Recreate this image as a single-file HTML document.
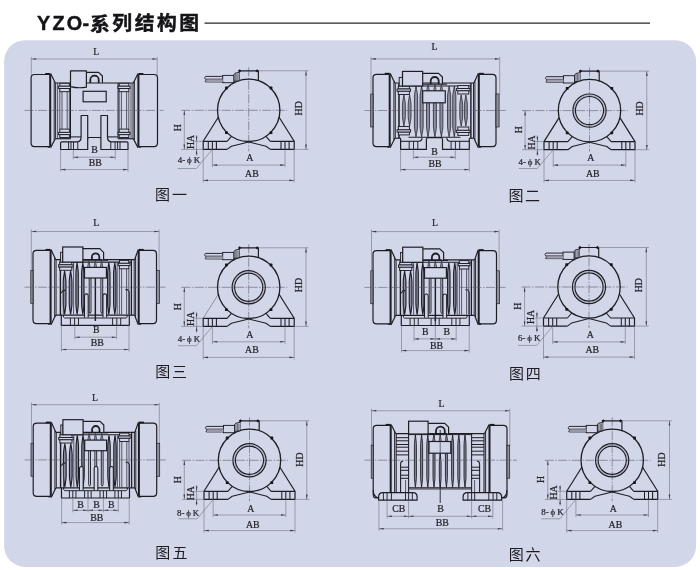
<!DOCTYPE html>
<html><head><meta charset="utf-8"><title>YZO</title>
<style>
html,body{margin:0;padding:0;background:#fff;}
body{width:700px;height:570px;overflow:hidden;font-family:"Liberation Sans",sans-serif;}
svg{display:block;will-change:transform;}
</style></head><body>
<svg width="700" height="570" viewBox="0 0 700 570">
<rect x="4.1" y="40.2" width="692" height="526.7" rx="21" ry="21" fill="#d2d6e9"/>
<text x="36.9" y="29.9" font-family="'Liberation Sans', sans-serif" font-weight="bold" font-size="19.8" fill="#141418" stroke="#141418" stroke-width="0.45" stroke-linejoin="round">Y</text>
<text x="52.4" y="29.9" font-family="'Liberation Sans', sans-serif" font-weight="bold" font-size="19.8" fill="#141418" stroke="#141418" stroke-width="0.45" stroke-linejoin="round">Z</text>
<text x="66.8" y="29.9" font-family="'Liberation Sans', sans-serif" font-weight="bold" font-size="19.8" fill="#141418" stroke="#141418" stroke-width="0.45" stroke-linejoin="round">O</text>
<text x="82.5" y="29.9" font-family="'Liberation Sans', sans-serif" font-weight="bold" font-size="19.8" fill="#141418" stroke="#141418" stroke-width="0.45" stroke-linejoin="round">-</text>
<text x="90.05" y="30.5" font-family="'Liberation Sans', 'Noto Sans CJK SC', sans-serif" font-weight="bold" font-size="19.8" fill="#141418" stroke="#141418" stroke-width="0.45" stroke-linejoin="round">系</text>
<text x="112.34" y="30.3" font-family="'Liberation Sans', 'Noto Sans CJK SC', sans-serif" font-weight="bold" font-size="19.8" fill="#141418" stroke="#141418" stroke-width="0.45" stroke-linejoin="round">列</text>
<text x="134.69" y="30.4" font-family="'Liberation Sans', 'Noto Sans CJK SC', sans-serif" font-weight="bold" font-size="19.8" fill="#141418" stroke="#141418" stroke-width="0.45" stroke-linejoin="round">结</text>
<text x="156.91" y="30.4" font-family="'Liberation Sans', 'Noto Sans CJK SC', sans-serif" font-weight="bold" font-size="19.8" fill="#141418" stroke="#141418" stroke-width="0.45" stroke-linejoin="round">构</text>
<text x="179.17" y="30.3" font-family="'Liberation Sans', 'Noto Sans CJK SC', sans-serif" font-weight="bold" font-size="19.8" fill="#141418" stroke="#141418" stroke-width="0.45" stroke-linejoin="round">图</text>
<line x1="204.5" y1="23.1" x2="650" y2="23.1" stroke="#26262c" stroke-width="1.1" />
<line x1="31.3" y1="59" x2="157.2" y2="59" stroke="#70727f" stroke-width="0.6" />
<path d="M31.3 59 L36.1 58.2 L36.1 59.8Z" fill="#3a3a44"/>
<path d="M157.2 59 L152.4 59.8 L152.4 58.2Z" fill="#3a3a44"/>
<text x="96.2" y="55.3" font-family="'Liberation Serif', serif" font-size="9.8" font-weight="normal" text-anchor="middle" fill="#25252c" stroke="#25252c" stroke-width="0.22" >L</text>
<line x1="31.3" y1="57" x2="31.3" y2="76" stroke="#70727f" stroke-width="0.6" />
<line x1="157.2" y1="57" x2="157.2" y2="76" stroke="#70727f" stroke-width="0.6" />
<line x1="55.3" y1="83" x2="133.3" y2="83" stroke="#1d1d24" stroke-width="1.18" />
<path d="M50.2 74.5 L34.7 74.5 Q31.1 74.5 31.1 78.1 L31.1 143.1 Q31.1 146.7 34.7 146.7 L50.2 146.7" stroke="#1d1d24" stroke-width="1.18" fill="#d2d6e9" stroke-linejoin="round" />
<line x1="50.2" y1="74.5" x2="50.2" y2="146.7" stroke="#1d1d24" stroke-width="2.01" />
<rect x="45.2" y="73" width="5" height="1.7" fill="#1a1a20"/>
<rect x="47.7" y="146.5" width="2.5" height="1.2" fill="#1a1a20"/>
<path d="M138.4 74.5 L153.9 74.5 Q157.5 74.5 157.5 78.1 L157.5 143.1 Q157.5 146.7 153.9 146.7 L138.4 146.7" stroke="#1d1d24" stroke-width="1.18" fill="#d2d6e9" stroke-linejoin="round" />
<line x1="138.4" y1="74.5" x2="138.4" y2="146.7" stroke="#1d1d24" stroke-width="2.01" />
<rect x="138.4" y="73" width="5" height="1.7" fill="#1a1a20"/>
<rect x="138.4" y="146.5" width="2.5" height="1.2" fill="#1a1a20"/>
<line x1="50.6" y1="73.4" x2="55.3" y2="83" stroke="#1d1d24" stroke-width="1.18" />
<line x1="50.6" y1="147.6" x2="55.3" y2="138.7" stroke="#1d1d24" stroke-width="1.18" />
<line x1="54.2" y1="81.5" x2="54.2" y2="140.2" stroke="#1d1d24" stroke-width="0.94" />
<line x1="55.6" y1="83" x2="55.6" y2="138.7" stroke="#1d1d24" stroke-width="0.94" />
<line x1="57.6" y1="83" x2="57.6" y2="138.7" stroke="#3c3c47" stroke-width="0.83" />
<line x1="55.3" y1="138.7" x2="70.5" y2="138.7" stroke="#1d1d24" stroke-width="1.18" />
<line x1="70.5" y1="136.9" x2="81.1" y2="136.9" stroke="#1d1d24" stroke-width="1.06" />
<line x1="70.5" y1="83" x2="70.5" y2="138.7" stroke="#1d1d24" stroke-width="1.06" />
<line x1="138" y1="73.4" x2="133.3" y2="83" stroke="#1d1d24" stroke-width="1.18" />
<line x1="138" y1="147.6" x2="133.3" y2="138.7" stroke="#1d1d24" stroke-width="1.18" />
<line x1="134.4" y1="81.5" x2="134.4" y2="140.2" stroke="#1d1d24" stroke-width="0.94" />
<line x1="133" y1="83" x2="133" y2="138.7" stroke="#1d1d24" stroke-width="0.94" />
<line x1="131" y1="83" x2="131" y2="138.7" stroke="#3c3c47" stroke-width="0.83" />
<line x1="133.3" y1="138.7" x2="118.1" y2="138.7" stroke="#1d1d24" stroke-width="1.18" />
<line x1="118.1" y1="136.9" x2="107.5" y2="136.9" stroke="#1d1d24" stroke-width="1.06" />
<line x1="118.1" y1="83" x2="118.1" y2="138.7" stroke="#1d1d24" stroke-width="1.06" />
<rect x="59.8" y="83.3" width="9.6" height="2.9" rx="0" stroke="#1d1d24" stroke-width="0.94" fill="#d2d6e9"/>
<rect x="58.6" y="86.2" width="12" height="2.3" rx="0" stroke="#1d1d24" stroke-width="0.94" fill="#d2d6e9"/>
<rect x="59.8" y="88.5" width="9.6" height="3.2" rx="0" stroke="#1d1d24" stroke-width="0.94" fill="#d2d6e9"/>
<rect x="59.8" y="134.6" width="9.6" height="2.9" rx="0" stroke="#1d1d24" stroke-width="0.94" fill="#d2d6e9"/>
<rect x="58.6" y="132.3" width="12" height="2.3" rx="0" stroke="#1d1d24" stroke-width="0.94" fill="#d2d6e9"/>
<rect x="59.8" y="129.1" width="9.6" height="3.2" rx="0" stroke="#1d1d24" stroke-width="0.94" fill="#d2d6e9"/>
<line x1="59.8" y1="91.7" x2="59.8" y2="129.1" stroke="#3c3c47" stroke-width="0.83" />
<line x1="62" y1="91.7" x2="62" y2="129.1" stroke="#3c3c47" stroke-width="0.83" />
<line x1="67.2" y1="91.7" x2="67.2" y2="129.1" stroke="#3c3c47" stroke-width="0.83" />
<line x1="69.4" y1="91.7" x2="69.4" y2="129.1" stroke="#3c3c47" stroke-width="0.83" />
<rect x="119.2" y="83.3" width="9.6" height="2.9" rx="0" stroke="#1d1d24" stroke-width="0.94" fill="#d2d6e9"/>
<rect x="118" y="86.2" width="12" height="2.3" rx="0" stroke="#1d1d24" stroke-width="0.94" fill="#d2d6e9"/>
<rect x="119.2" y="88.5" width="9.6" height="3.2" rx="0" stroke="#1d1d24" stroke-width="0.94" fill="#d2d6e9"/>
<rect x="119.2" y="134.6" width="9.6" height="2.9" rx="0" stroke="#1d1d24" stroke-width="0.94" fill="#d2d6e9"/>
<rect x="118" y="132.3" width="12" height="2.3" rx="0" stroke="#1d1d24" stroke-width="0.94" fill="#d2d6e9"/>
<rect x="119.2" y="129.1" width="9.6" height="3.2" rx="0" stroke="#1d1d24" stroke-width="0.94" fill="#d2d6e9"/>
<line x1="119.2" y1="91.7" x2="119.2" y2="129.1" stroke="#3c3c47" stroke-width="0.83" />
<line x1="121.4" y1="91.7" x2="121.4" y2="129.1" stroke="#3c3c47" stroke-width="0.83" />
<line x1="126.6" y1="91.7" x2="126.6" y2="129.1" stroke="#3c3c47" stroke-width="0.83" />
<line x1="128.8" y1="91.7" x2="128.8" y2="129.1" stroke="#3c3c47" stroke-width="0.83" />
<path d="M70.5 70.8 L86.4 70.8 L86.4 87.2 Q78 88.6 70.5 86.6 Z" stroke="#1d1d24" stroke-width="1.18" fill="#d2d6e9" stroke-linejoin="round" />
<path d="M86.4 72.3 L98.6 72.3 L102.4 76 L102.4 83" stroke="#1d1d24" stroke-width="1.18" fill="#d2d6e9" stroke-linejoin="round" />
<path d="M90.3 83 L90.3 79.8 A4.2 4.2 0 0 1 98.7 79.8 L98.7 83" stroke="#1d1d24" stroke-width="1.77" fill="none" stroke-linejoin="round" />
<rect x="83.1" y="91.3" width="23.1" height="10.5" rx="0" stroke="#1d1d24" stroke-width="1.18" fill="none"/>
<path d="M87.7 139 Q87.7 137.5 89.2 137.5 L99.4 137.5 Q100.9 137.5 100.9 139" stroke="#1d1d24" stroke-width="1.06" fill="none" stroke-linejoin="round" />
<path d="M87.7 149.5 L60.6 149.5 L60.6 142.9 Q60.6 141.8 61.8 141.8 L77.6 141.8 Q80.9 141.6 81.1 137.4 L81.1 115.5 L87.7 115.5 Z" stroke="#1d1d24" stroke-width="1.18" fill="#d2d6e9" stroke-linejoin="round" />
<line x1="68.6" y1="141.8" x2="68.6" y2="149.5" stroke="#1d1d24" stroke-width="0.94" />
<line x1="71" y1="141.8" x2="71" y2="149.5" stroke="#1d1d24" stroke-width="0.94" />
<line x1="73.5" y1="141.8" x2="73.5" y2="149.5" stroke="#1d1d24" stroke-width="0.94" />
<line x1="77.8" y1="141.8" x2="77.8" y2="149.5" stroke="#1d1d24" stroke-width="0.94" />
<path d="M100.9 149.5 L128 149.5 L128 142.9 Q128 141.8 126.8 141.8 L111 141.8 Q107.7 141.6 107.5 137.4 L107.5 115.5 L100.9 115.5 Z" stroke="#1d1d24" stroke-width="1.18" fill="#d2d6e9" stroke-linejoin="round" />
<line x1="120" y1="141.8" x2="120" y2="149.5" stroke="#1d1d24" stroke-width="0.94" />
<line x1="117.6" y1="141.8" x2="117.6" y2="149.5" stroke="#1d1d24" stroke-width="0.94" />
<line x1="115.1" y1="141.8" x2="115.1" y2="149.5" stroke="#1d1d24" stroke-width="0.94" />
<line x1="110.8" y1="141.8" x2="110.8" y2="149.5" stroke="#1d1d24" stroke-width="0.94" />
<line x1="24.5" y1="110.4" x2="163.5" y2="110.4" stroke="#5a5c6a" stroke-width="0.6" stroke-dasharray="9 1.5 1.5 1.5"/>
<line x1="73.3" y1="157.2" x2="115.3" y2="157.2" stroke="#70727f" stroke-width="0.6" />
<path d="M73.3 157.2 L78.1 156.4 L78.1 158Z" fill="#3a3a44"/>
<path d="M115.3 157.2 L110.5 158 L110.5 156.4Z" fill="#3a3a44"/>
<line x1="73.3" y1="149.5" x2="73.3" y2="159.2" stroke="#70727f" stroke-width="0.6" />
<line x1="115.3" y1="149.5" x2="115.3" y2="159.2" stroke="#70727f" stroke-width="0.6" />
<text x="94.5" y="152.6" font-family="'Liberation Serif', serif" font-size="9.8" font-weight="normal" text-anchor="middle" fill="#25252c" stroke="#25252c" stroke-width="0.22" >B</text>
<line x1="60.6" y1="169.6" x2="128" y2="169.6" stroke="#70727f" stroke-width="0.6" />
<path d="M60.6 169.6 L65.4 168.8 L65.4 170.4Z" fill="#3a3a44"/>
<path d="M128 169.6 L123.2 170.4 L123.2 168.8Z" fill="#3a3a44"/>
<line x1="60.6" y1="149.5" x2="60.6" y2="171.6" stroke="#70727f" stroke-width="0.6" />
<line x1="128" y1="149.5" x2="128" y2="171.6" stroke="#70727f" stroke-width="0.6" />
<text x="95.2" y="165.6" font-family="'Liberation Serif', serif" font-size="9.8" font-weight="normal" text-anchor="middle" fill="#25252c" stroke="#25252c" stroke-width="0.22" >BB</text>
<line x1="248.7" y1="67.3" x2="248.7" y2="151.3" stroke="#5a5c6a" stroke-width="0.6" stroke-dasharray="9 1.5 1.5 1.5"/>
<line x1="181.2" y1="110.3" x2="287.2" y2="110.3" stroke="#5a5c6a" stroke-width="0.6" stroke-dasharray="9 1.5 1.5 1.5"/>
<line x1="218.3" y1="117.3" x2="203.2" y2="141.3" stroke="#1d1d24" stroke-width="1.18" />
<path d="M227.1 141.3 L203.2 141.3 L203.2 149.4 L227.1 149.4" stroke="#1d1d24" stroke-width="1.18" fill="none" stroke-linejoin="round" />
<line x1="208.3" y1="141.3" x2="208.3" y2="149.4" stroke="#1d1d24" stroke-width="1.06" />
<line x1="212.4" y1="141.3" x2="212.4" y2="149.4" stroke="#1d1d24" stroke-width="1.06" />
<line x1="216.4" y1="141.3" x2="216.4" y2="149.4" stroke="#1d1d24" stroke-width="1.06" />
<line x1="227.1" y1="141.3" x2="231.4" y2="136.3" stroke="#1d1d24" stroke-width="1.06" />
<path d="M227.1 149.4 L231.4 146.2 L248.7 141.9" stroke="#1d1d24" stroke-width="1.06" fill="none" stroke-linejoin="round" />
<line x1="279.1" y1="117.3" x2="294.2" y2="141.3" stroke="#1d1d24" stroke-width="1.18" />
<path d="M270.3 141.3 L294.2 141.3 L294.2 149.4 L270.3 149.4" stroke="#1d1d24" stroke-width="1.18" fill="none" stroke-linejoin="round" />
<line x1="289.1" y1="141.3" x2="289.1" y2="149.4" stroke="#1d1d24" stroke-width="1.06" />
<line x1="285" y1="141.3" x2="285" y2="149.4" stroke="#1d1d24" stroke-width="1.06" />
<line x1="281" y1="141.3" x2="281" y2="149.4" stroke="#1d1d24" stroke-width="1.06" />
<line x1="270.3" y1="141.3" x2="266" y2="136.3" stroke="#1d1d24" stroke-width="1.06" />
<path d="M270.3 149.4 L266 146.2 L248.7 141.9" stroke="#1d1d24" stroke-width="1.06" fill="none" stroke-linejoin="round" />
<circle cx="248.7" cy="110.3" r="31.2" stroke="#1d1d24" stroke-width="1.3" fill="none"/>
<rect x="225" y="86.6" width="2.8" height="2.8" rx="0.6" fill="#15151a"/>
<rect x="225" y="131.2" width="2.8" height="2.8" rx="0.6" fill="#15151a"/>
<rect x="269.6" y="86.6" width="2.8" height="2.8" rx="0.6" fill="#15151a"/>
<rect x="269.6" y="131.2" width="2.8" height="2.8" rx="0.6" fill="#15151a"/>
<path d="M239.1 80.91 L239.1 70.8 L258.4 70.8 L258.4 80.91" stroke="#1d1d24" stroke-width="1.18" fill="none" stroke-linejoin="round" />
<rect x="238.55" y="69.65" width="2.3" height="2.3" fill="#15151a" transform="rotate(45 239.7 70.8)"/>
<rect x="255.95" y="69.65" width="2.3" height="2.3" fill="#15151a" transform="rotate(45 257.1 70.8)"/>
<path d="M239.1 72.4 L235 73.2 L233.8 74.8 L233.8 81.4 L239.1 80.8" stroke="#1d1d24" stroke-width="0.94" fill="#d2d6e9" stroke-linejoin="round" />
<line x1="235.3" y1="73.6" x2="235.3" y2="81.1" stroke="#3c3c47" stroke-width="0.71" />
<line x1="236.8" y1="73.6" x2="236.8" y2="81.1" stroke="#3c3c47" stroke-width="0.71" />
<line x1="238.1" y1="73.6" x2="238.1" y2="81.1" stroke="#3c3c47" stroke-width="0.71" />
<rect x="222.7" y="75.4" width="11.1" height="7.3" rx="0" stroke="#1d1d24" stroke-width="0.94" fill="#d2d6e9"/>
<path d="M222.7 76.4 L205.5 76.4" stroke="#1d1d24" stroke-width="0.94" fill="none" stroke-linejoin="round" />
<path d="M222.7 81.9 L205.5 81.9" stroke="#1d1d24" stroke-width="0.94" fill="none" stroke-linejoin="round" />
<rect x="206.2" y="79" width="16.5" height="2.9" fill="#9c9eab"/>
<line x1="205.5" y1="79" x2="222.7" y2="79" stroke="#3c3c47" stroke-width="0.71" />
<path d="M205.5 76.4 L204.5 78 L206.1 79.8 L205.1 81.9" stroke="#1d1d24" stroke-width="0.83" fill="none" stroke-linejoin="round" />
<line x1="258.4" y1="70.8" x2="308.5" y2="70.8" stroke="#70727f" stroke-width="0.6" />
<line x1="294.2" y1="149.4" x2="308.5" y2="149.4" stroke="#70727f" stroke-width="0.6" />
<line x1="306" y1="70.8" x2="306" y2="149.4" stroke="#70727f" stroke-width="0.6" />
<path d="M306 70.8 L306.8 75.6 L305.2 75.6Z" fill="#3a3a44"/>
<path d="M306 149.4 L305.2 144.6 L306.8 144.6Z" fill="#3a3a44"/>
<text x="301.9" y="108.3" font-family="'Liberation Serif', serif" font-size="9.8" font-weight="normal" text-anchor="middle" fill="#25252c" stroke="#25252c" stroke-width="0.22" transform="rotate(-90 301.9 108.3)" >HD</text>
<line x1="184.3" y1="110.3" x2="184.3" y2="149.4" stroke="#70727f" stroke-width="0.6" />
<path d="M184.3 110.3 L185.1 115.1 L183.5 115.1Z" fill="#3a3a44"/>
<path d="M184.3 149.4 L183.5 144.6 L185.1 144.6Z" fill="#3a3a44"/>
<text x="181" y="127.7" font-family="'Liberation Serif', serif" font-size="9.8" font-weight="normal" text-anchor="middle" fill="#25252c" stroke="#25252c" stroke-width="0.22" transform="rotate(-90 181 127.7)" >H</text>
<line x1="181.2" y1="149.4" x2="203.2" y2="149.4" stroke="#70727f" stroke-width="0.6" />
<line x1="194.8" y1="141.3" x2="203.2" y2="141.3" stroke="#70727f" stroke-width="0.6" />
<line x1="196.6" y1="135" x2="196.6" y2="155.7" stroke="#70727f" stroke-width="0.6" />
<path d="M196.6 141.3 L195.8 136.5 L197.4 136.5Z" fill="#3a3a44"/>
<path d="M196.6 149.4 L197.4 154.2 L195.8 154.2Z" fill="#3a3a44"/>
<text x="193.8" y="142" font-family="'Liberation Serif', serif" font-size="9.8" font-weight="normal" text-anchor="middle" fill="#25252c" stroke="#25252c" stroke-width="0.22" transform="rotate(-90 193.8 142)" >HA</text>
<text x="188.9" y="163.1" font-family="'Liberation Serif', serif" font-size="8.9" font-weight="normal" text-anchor="middle" fill="#25252c" stroke="#25252c" stroke-width="0.22" xml:space="preserve" word-spacing="-0.3">4- &#981; K</text>
<path d="M177.9 168.5 L196.4 168.5 L212.4 149.4" stroke="#70727f" stroke-width="0.6" fill="none" stroke-linejoin="round" />
<line x1="212.4" y1="165.1" x2="285" y2="165.1" stroke="#70727f" stroke-width="0.6" />
<path d="M212.4 165.1 L217.2 164.3 L217.2 165.9Z" fill="#3a3a44"/>
<path d="M285 165.1 L280.2 165.9 L280.2 164.3Z" fill="#3a3a44"/>
<line x1="212.4" y1="149.4" x2="212.4" y2="167.1" stroke="#70727f" stroke-width="0.6" />
<line x1="285" y1="149.4" x2="285" y2="167.1" stroke="#70727f" stroke-width="0.6" />
<text x="249.9" y="160.9" font-family="'Liberation Serif', serif" font-size="9.8" font-weight="normal" text-anchor="middle" fill="#25252c" stroke="#25252c" stroke-width="0.22" >A</text>
<line x1="203.2" y1="180.4" x2="294.2" y2="180.4" stroke="#70727f" stroke-width="0.6" />
<path d="M203.2 180.4 L208 179.6 L208 181.2Z" fill="#3a3a44"/>
<path d="M294.2 180.4 L289.4 181.2 L289.4 179.6Z" fill="#3a3a44"/>
<line x1="203.2" y1="149.4" x2="203.2" y2="182.4" stroke="#70727f" stroke-width="0.6" />
<line x1="294.2" y1="149.4" x2="294.2" y2="182.4" stroke="#70727f" stroke-width="0.6" />
<text x="251.9" y="176.7" font-family="'Liberation Serif', serif" font-size="9.8" font-weight="normal" text-anchor="middle" fill="#25252c" stroke="#25252c" stroke-width="0.22" >AB</text>
<path d="M389.7 74.3 L376.6 74.3 Q373 74.3 373 77.9 L373 143.1 Q373 146.7 376.6 146.7 L389.7 146.7" stroke="#1d1d24" stroke-width="1.18" fill="#d2d6e9" stroke-linejoin="round" />
<line x1="389.7" y1="74.3" x2="389.7" y2="146.7" stroke="#1d1d24" stroke-width="2.01" />
<rect x="384.7" y="72.8" width="5" height="1.7" fill="#1a1a20"/>
<rect x="387.2" y="146.5" width="2.5" height="1.2" fill="#1a1a20"/>
<rect x="370.7" y="94" width="2.3" height="33" fill="#8e909e" stroke="#1d1d24" stroke-width="0.7"/>
<path d="M478.8 74.3 L492.4 74.3 Q496 74.3 496 77.9 L496 143.1 Q496 146.7 492.4 146.7 L478.8 146.7" stroke="#1d1d24" stroke-width="1.18" fill="#d2d6e9" stroke-linejoin="round" />
<line x1="478.8" y1="74.3" x2="478.8" y2="146.7" stroke="#1d1d24" stroke-width="2.01" />
<rect x="478.8" y="72.8" width="5" height="1.7" fill="#1a1a20"/>
<rect x="478.8" y="146.5" width="2.5" height="1.2" fill="#1a1a20"/>
<rect x="496" y="94" width="3.1" height="33" fill="#8e909e" stroke="#1d1d24" stroke-width="0.7"/>
<line x1="390.1" y1="73.3" x2="394.9" y2="83" stroke="#1d1d24" stroke-width="1.18" />
<line x1="390.1" y1="147.7" x2="394.9" y2="138.2" stroke="#1d1d24" stroke-width="1.18" />
<line x1="393.9" y1="81.4" x2="393.9" y2="139.8" stroke="#1d1d24" stroke-width="0.94" />
<line x1="395.3" y1="83" x2="395.3" y2="138.2" stroke="#1d1d24" stroke-width="0.94" />
<line x1="478.4" y1="73.3" x2="473.9" y2="83" stroke="#1d1d24" stroke-width="1.18" />
<line x1="478.4" y1="147.7" x2="473.9" y2="138.2" stroke="#1d1d24" stroke-width="1.18" />
<line x1="474.9" y1="81.4" x2="474.9" y2="139.8" stroke="#1d1d24" stroke-width="0.94" />
<line x1="473.5" y1="83" x2="473.5" y2="138.2" stroke="#1d1d24" stroke-width="0.94" />
<line x1="371" y1="58.9" x2="499.7" y2="58.9" stroke="#70727f" stroke-width="0.6" />
<path d="M371 58.9 L375.8 58.1 L375.8 59.7Z" fill="#3a3a44"/>
<path d="M499.7 58.9 L494.9 59.7 L494.9 58.1Z" fill="#3a3a44"/>
<text x="434.5" y="49.9" font-family="'Liberation Serif', serif" font-size="9.8" font-weight="normal" text-anchor="middle" fill="#25252c" stroke="#25252c" stroke-width="0.22" >L</text>
<line x1="371" y1="56.9" x2="371" y2="95" stroke="#70727f" stroke-width="0.6" />
<line x1="499.7" y1="56.9" x2="499.7" y2="95" stroke="#70727f" stroke-width="0.6" />
<line x1="394.9" y1="83" x2="473.9" y2="83" stroke="#1d1d24" stroke-width="1.18" />
<line x1="399" y1="83" x2="399" y2="138.2" stroke="#1d1d24" stroke-width="1.53" />
<line x1="470.9" y1="83" x2="470.9" y2="138.2" stroke="#1d1d24" stroke-width="1.42" />
<line x1="394.9" y1="138.2" x2="400.6" y2="138.2" stroke="#1d1d24" stroke-width="1.18" />
<line x1="469.3" y1="138.2" x2="473.9" y2="138.2" stroke="#1d1d24" stroke-width="1.18" />
<line x1="399" y1="86" x2="470.9" y2="86" stroke="#1d1d24" stroke-width="1.06" />
<path d="M416 86.2 C415.12 91.15 414.4 93.9 414.4 97.2 L414.4 125.8 C414.4 129.1 415.12 131.85 416 136.8 C416.88 131.85 417.6 129.1 417.6 125.8 L417.6 97.2 C417.6 93.9 416.88 91.15 416 86.2 Z" stroke="#1d1d24" stroke-width="0.73" fill="#8a8d9f" stroke-linejoin="miter"/>
<path d="M421.6 86.2 C420.72 91.15 420 93.9 420 97.2 L420 125.8 C420 129.1 420.72 131.85 421.6 136.8 C422.48 131.85 423.2 129.1 423.2 125.8 L423.2 97.2 C423.2 93.9 422.48 91.15 421.6 86.2 Z" stroke="#1d1d24" stroke-width="0.73" fill="#8a8d9f" stroke-linejoin="miter"/>
<path d="M449.1 86.2 C448.22 91.15 447.5 93.9 447.5 97.2 L447.5 125.8 C447.5 129.1 448.22 131.85 449.1 136.8 C449.98 131.85 450.7 129.1 450.7 125.8 L450.7 97.2 C450.7 93.9 449.98 91.15 449.1 86.2 Z" stroke="#1d1d24" stroke-width="0.73" fill="#8a8d9f" stroke-linejoin="miter"/>
<path d="M454.3 86.2 C453.42 91.15 452.7 93.9 452.7 97.2 L452.7 125.8 C452.7 129.1 453.42 131.85 454.3 136.8 C455.18 131.85 455.9 129.1 455.9 125.8 L455.9 97.2 C455.9 93.9 455.18 91.15 454.3 86.2 Z" stroke="#1d1d24" stroke-width="0.73" fill="#8a8d9f" stroke-linejoin="miter"/>
<path d="M403.9 95 C403.1 99.6 402.45 102.16 402.45 105.23 L402.45 115.77 C402.45 118.84 403.1 121.4 403.9 126 C404.7 121.4 405.35 118.84 405.35 115.77 L405.35 105.23 C405.35 102.16 404.7 99.6 403.9 95 Z" stroke="#1d1d24" stroke-width="0.73" fill="#8a8d9f" stroke-linejoin="miter"/>
<path d="M409.6 95 C408.8 99.6 408.15 102.16 408.15 105.23 L408.15 115.77 C408.15 118.84 408.8 121.4 409.6 126 C410.4 121.4 411.05 118.84 411.05 115.77 L411.05 105.23 C411.05 102.16 410.4 99.6 409.6 95 Z" stroke="#1d1d24" stroke-width="0.73" fill="#8a8d9f" stroke-linejoin="miter"/>
<path d="M461.2 95 C460.4 99.6 459.75 102.16 459.75 105.23 L459.75 115.77 C459.75 118.84 460.4 121.4 461.2 126 C462 121.4 462.65 118.84 462.65 115.77 L462.65 105.23 C462.65 102.16 462 99.6 461.2 95 Z" stroke="#1d1d24" stroke-width="0.73" fill="#8a8d9f" stroke-linejoin="miter"/>
<path d="M465.9 95 C465.1 99.6 464.45 102.16 464.45 105.23 L464.45 115.77 C464.45 118.84 465.1 121.4 465.9 126 C466.7 121.4 467.35 118.84 467.35 115.77 L467.35 105.23 C467.35 102.16 466.7 99.6 465.9 95 Z" stroke="#1d1d24" stroke-width="0.73" fill="#8a8d9f" stroke-linejoin="miter"/>
<path d="M428 90.2 C427.18 95.15 426.5 97.9 426.5 101.2 L426.5 125.8 C426.5 129.1 427.18 131.85 428 136.8 C428.82 131.85 429.5 129.1 429.5 125.8 L429.5 101.2 C429.5 97.9 428.82 95.15 428 90.2 Z" stroke="#1d1d24" stroke-width="0.73" fill="#8a8d9f" stroke-linejoin="miter"/>
<path d="M434.9 90.2 C434.07 95.15 433.4 97.9 433.4 101.2 L433.4 125.8 C433.4 129.1 434.07 131.85 434.9 136.8 C435.72 131.85 436.4 129.1 436.4 125.8 L436.4 101.2 C436.4 97.9 435.72 95.15 434.9 90.2 Z" stroke="#1d1d24" stroke-width="0.73" fill="#8a8d9f" stroke-linejoin="miter"/>
<path d="M441.4 90.2 C440.57 95.15 439.9 97.9 439.9 101.2 L439.9 125.8 C439.9 129.1 440.57 131.85 441.4 136.8 C442.22 131.85 442.9 129.1 442.9 125.8 L442.9 101.2 C442.9 97.9 442.22 95.15 441.4 90.2 Z" stroke="#1d1d24" stroke-width="0.73" fill="#8a8d9f" stroke-linejoin="miter"/>
<line x1="408.5" y1="137.2" x2="460.4" y2="137.2" stroke="#1d1d24" stroke-width="1.06" />
<rect x="398.3" y="86.1" width="11.1" height="2.9" rx="0" stroke="#1d1d24" stroke-width="0.94" fill="#d2d6e9"/>
<rect x="397.1" y="89" width="13.5" height="2.3" rx="0" stroke="#1d1d24" stroke-width="0.94" fill="#d2d6e9"/>
<rect x="398.3" y="91.3" width="11.1" height="3.2" rx="0" stroke="#1d1d24" stroke-width="0.94" fill="#d2d6e9"/>
<rect x="398.3" y="132" width="11.1" height="2.9" rx="0" stroke="#1d1d24" stroke-width="0.94" fill="#d2d6e9"/>
<rect x="397.1" y="129.7" width="13.5" height="2.3" rx="0" stroke="#1d1d24" stroke-width="0.94" fill="#d2d6e9"/>
<rect x="398.3" y="126.5" width="11.1" height="3.2" rx="0" stroke="#1d1d24" stroke-width="0.94" fill="#d2d6e9"/>
<rect x="457.8" y="85.6" width="11" height="2.9" rx="0" stroke="#1d1d24" stroke-width="0.94" fill="#d2d6e9"/>
<rect x="456.6" y="88.5" width="13.4" height="2.3" rx="0" stroke="#1d1d24" stroke-width="0.94" fill="#d2d6e9"/>
<rect x="457.8" y="90.8" width="11" height="3.2" rx="0" stroke="#1d1d24" stroke-width="0.94" fill="#d2d6e9"/>
<rect x="457.8" y="132.5" width="11" height="2.9" rx="0" stroke="#1d1d24" stroke-width="0.94" fill="#d2d6e9"/>
<rect x="456.6" y="130.2" width="13.4" height="2.3" rx="0" stroke="#1d1d24" stroke-width="0.94" fill="#d2d6e9"/>
<rect x="457.8" y="127" width="11" height="3.2" rx="0" stroke="#1d1d24" stroke-width="0.94" fill="#d2d6e9"/>
<rect x="399.2" y="77.4" width="3.3" height="8.6" rx="0" stroke="#1d1d24" stroke-width="0.94" fill="#d2d6e9"/>
<rect x="402.5" y="71.4" width="20.2" height="14.6" rx="0" stroke="#1d1d24" stroke-width="1.18" fill="#d2d6e9"/>
<path d="M422.7 73.3 L438.6 73.3 L442.4 77 L442.4 84.2" stroke="#1d1d24" stroke-width="1.18" fill="#d2d6e9" stroke-linejoin="round" />
<path d="M430.7 84.2 L430.7 81 A4 4 0 0 1 438.7 81 L438.7 84.2" stroke="#1d1d24" stroke-width="1.77" fill="none" stroke-linejoin="round" />
<path d="M426.7 90.5 L428 84.6 L429.3 90.5" stroke="#3c3c47" stroke-width="0.83" fill="#8e909e" stroke-linejoin="round" />
<path d="M433.6 90.5 L434.9 84.6 L436.2 90.5" stroke="#3c3c47" stroke-width="0.83" fill="#8e909e" stroke-linejoin="round" />
<path d="M440.1 90.5 L441.4 84.6 L442.7 90.5" stroke="#3c3c47" stroke-width="0.83" fill="#8e909e" stroke-linejoin="round" />
<line x1="422.7" y1="84.2" x2="447" y2="84.2" stroke="#1d1d24" stroke-width="1.06" />
<rect x="422.7" y="90.8" width="22.6" height="12" rx="0" stroke="#1d1d24" stroke-width="1.18" fill="#d2d6e9"/>
<path d="M400.6 138.2 L400.6 149.4 L426.4 149.4 L426.4 139.2" stroke="#1d1d24" stroke-width="1.18" fill="none" stroke-linejoin="round" />
<line x1="400.6" y1="141.3" x2="419" y2="141.3" stroke="#1d1d24" stroke-width="1.06" />
<path d="M419 141.3 Q421.6 141.3 422.2 138.2" stroke="#1d1d24" stroke-width="1.06" fill="none" stroke-linejoin="round" />
<line x1="409.2" y1="141.3" x2="409.2" y2="149.4" stroke="#1d1d24" stroke-width="0.94" />
<line x1="413.5" y1="141.3" x2="413.5" y2="149.4" stroke="#1d1d24" stroke-width="0.94" />
<line x1="417.8" y1="141.3" x2="417.8" y2="149.4" stroke="#1d1d24" stroke-width="0.94" />
<path d="M469.3 138.2 L469.3 149.4 L442.5 149.4 L442.5 139.2" stroke="#1d1d24" stroke-width="1.18" fill="none" stroke-linejoin="round" />
<line x1="469.3" y1="141.3" x2="449.9" y2="141.3" stroke="#1d1d24" stroke-width="1.06" />
<path d="M449.9 141.3 Q447.3 141.3 446.7 138.2" stroke="#1d1d24" stroke-width="1.06" fill="none" stroke-linejoin="round" />
<line x1="459.7" y1="141.3" x2="459.7" y2="149.4" stroke="#1d1d24" stroke-width="0.94" />
<line x1="455.4" y1="141.3" x2="455.4" y2="149.4" stroke="#1d1d24" stroke-width="0.94" />
<line x1="451.1" y1="141.3" x2="451.1" y2="149.4" stroke="#1d1d24" stroke-width="0.94" />
<path d="M426.4 139.4 Q426.4 137.6 428.2 137.6 L440.7 137.6 Q442.5 137.6 442.5 139.4" stroke="#1d1d24" stroke-width="1.06" fill="none" stroke-linejoin="round" />
<line x1="364.5" y1="110.5" x2="505.5" y2="110.5" stroke="#5a5c6a" stroke-width="0.6" stroke-dasharray="9 1.5 1.5 1.5"/>
<line x1="413.4" y1="157.2" x2="455.3" y2="157.2" stroke="#70727f" stroke-width="0.6" />
<path d="M413.4 157.2 L418.2 156.4 L418.2 158Z" fill="#3a3a44"/>
<path d="M455.3 157.2 L450.5 158 L450.5 156.4Z" fill="#3a3a44"/>
<line x1="413.4" y1="149.4" x2="413.4" y2="159.2" stroke="#70727f" stroke-width="0.6" />
<line x1="455.3" y1="149.4" x2="455.3" y2="159.2" stroke="#70727f" stroke-width="0.6" />
<text x="434.4" y="154.9" font-family="'Liberation Serif', serif" font-size="9.8" font-weight="normal" text-anchor="middle" fill="#25252c" stroke="#25252c" stroke-width="0.22" >B</text>
<line x1="400.6" y1="169.6" x2="469.3" y2="169.6" stroke="#70727f" stroke-width="0.6" />
<path d="M400.6 169.6 L405.4 168.8 L405.4 170.4Z" fill="#3a3a44"/>
<path d="M469.3 169.6 L464.5 170.4 L464.5 168.8Z" fill="#3a3a44"/>
<line x1="400.6" y1="149.4" x2="400.6" y2="171.6" stroke="#70727f" stroke-width="0.6" />
<line x1="469.3" y1="149.4" x2="469.3" y2="171.6" stroke="#70727f" stroke-width="0.6" />
<text x="435" y="167" font-family="'Liberation Serif', serif" font-size="9.8" font-weight="normal" text-anchor="middle" fill="#25252c" stroke="#25252c" stroke-width="0.22" >BB</text>
<line x1="589.5" y1="67.6" x2="589.5" y2="151.6" stroke="#5a5c6a" stroke-width="0.6" stroke-dasharray="9 1.5 1.5 1.5"/>
<line x1="522" y1="110.6" x2="628" y2="110.6" stroke="#5a5c6a" stroke-width="0.6" stroke-dasharray="9 1.5 1.5 1.5"/>
<line x1="559.1" y1="117.6" x2="544" y2="141.6" stroke="#1d1d24" stroke-width="1.18" />
<path d="M567.9 141.6 L544 141.6 L544 149.7 L567.9 149.7" stroke="#1d1d24" stroke-width="1.18" fill="none" stroke-linejoin="round" />
<line x1="549.1" y1="141.6" x2="549.1" y2="149.7" stroke="#1d1d24" stroke-width="1.06" />
<line x1="553.2" y1="141.6" x2="553.2" y2="149.7" stroke="#1d1d24" stroke-width="1.06" />
<line x1="557.2" y1="141.6" x2="557.2" y2="149.7" stroke="#1d1d24" stroke-width="1.06" />
<line x1="567.9" y1="141.6" x2="572.2" y2="136.6" stroke="#1d1d24" stroke-width="1.06" />
<path d="M567.9 149.7 L572.2 146.5 L589.5 142.2" stroke="#1d1d24" stroke-width="1.06" fill="none" stroke-linejoin="round" />
<line x1="619.9" y1="117.6" x2="635" y2="141.6" stroke="#1d1d24" stroke-width="1.18" />
<path d="M611.1 141.6 L635 141.6 L635 149.7 L611.1 149.7" stroke="#1d1d24" stroke-width="1.18" fill="none" stroke-linejoin="round" />
<line x1="629.9" y1="141.6" x2="629.9" y2="149.7" stroke="#1d1d24" stroke-width="1.06" />
<line x1="625.8" y1="141.6" x2="625.8" y2="149.7" stroke="#1d1d24" stroke-width="1.06" />
<line x1="621.8" y1="141.6" x2="621.8" y2="149.7" stroke="#1d1d24" stroke-width="1.06" />
<line x1="611.1" y1="141.6" x2="606.8" y2="136.6" stroke="#1d1d24" stroke-width="1.06" />
<path d="M611.1 149.7 L606.8 146.5 L589.5 142.2" stroke="#1d1d24" stroke-width="1.06" fill="none" stroke-linejoin="round" />
<circle cx="589.5" cy="110.6" r="31.2" stroke="#1d1d24" stroke-width="1.3" fill="none"/>
<circle cx="589.5" cy="110.6" r="16.6" stroke="#1d1d24" stroke-width="1.18" fill="none"/>
<circle cx="589.5" cy="110.6" r="14.1" stroke="#1d1d24" stroke-width="1.18" fill="none"/>
<circle cx="589.5" cy="110.6" r="15.35" stroke="#8a8c9a" stroke-width="0.5" fill="none"/>
<rect x="565.8" y="86.9" width="2.8" height="2.8" rx="0.6" fill="#15151a"/>
<rect x="565.8" y="131.5" width="2.8" height="2.8" rx="0.6" fill="#15151a"/>
<rect x="610.4" y="86.9" width="2.8" height="2.8" rx="0.6" fill="#15151a"/>
<rect x="610.4" y="131.5" width="2.8" height="2.8" rx="0.6" fill="#15151a"/>
<path d="M579.9 81.21 L579.9 71.1 L599.2 71.1 L599.2 81.21" stroke="#1d1d24" stroke-width="1.18" fill="none" stroke-linejoin="round" />
<rect x="579.35" y="69.95" width="2.3" height="2.3" fill="#15151a" transform="rotate(45 580.5 71.1)"/>
<rect x="596.75" y="69.95" width="2.3" height="2.3" fill="#15151a" transform="rotate(45 597.9 71.1)"/>
<path d="M579.9 72.7 L575.8 73.5 L574.6 75.1 L574.6 81.7 L579.9 81.1" stroke="#1d1d24" stroke-width="0.94" fill="#d2d6e9" stroke-linejoin="round" />
<line x1="576.1" y1="73.9" x2="576.1" y2="81.4" stroke="#3c3c47" stroke-width="0.71" />
<line x1="577.6" y1="73.9" x2="577.6" y2="81.4" stroke="#3c3c47" stroke-width="0.71" />
<line x1="578.9" y1="73.9" x2="578.9" y2="81.4" stroke="#3c3c47" stroke-width="0.71" />
<rect x="563.5" y="75.7" width="11.1" height="7.3" rx="0" stroke="#1d1d24" stroke-width="0.94" fill="#d2d6e9"/>
<path d="M563.5 76.7 L546.3 76.7" stroke="#1d1d24" stroke-width="0.94" fill="none" stroke-linejoin="round" />
<path d="M563.5 82.2 L546.3 82.2" stroke="#1d1d24" stroke-width="0.94" fill="none" stroke-linejoin="round" />
<rect x="547" y="79.3" width="16.5" height="2.9" fill="#9c9eab"/>
<line x1="546.3" y1="79.3" x2="563.5" y2="79.3" stroke="#3c3c47" stroke-width="0.71" />
<path d="M546.3 76.7 L545.3 78.3 L546.9 80.1 L545.9 82.2" stroke="#1d1d24" stroke-width="0.83" fill="none" stroke-linejoin="round" />
<line x1="599.2" y1="71.1" x2="649.3" y2="71.1" stroke="#70727f" stroke-width="0.6" />
<line x1="635" y1="149.7" x2="649.3" y2="149.7" stroke="#70727f" stroke-width="0.6" />
<line x1="646.8" y1="71.1" x2="646.8" y2="149.7" stroke="#70727f" stroke-width="0.6" />
<path d="M646.8 71.1 L647.6 75.9 L646 75.9Z" fill="#3a3a44"/>
<path d="M646.8 149.7 L646 144.9 L647.6 144.9Z" fill="#3a3a44"/>
<text x="642.7" y="108.4" font-family="'Liberation Serif', serif" font-size="9.8" font-weight="normal" text-anchor="middle" fill="#25252c" stroke="#25252c" stroke-width="0.22" transform="rotate(-90 642.7 108.4)" >HD</text>
<line x1="525.1" y1="110.6" x2="525.1" y2="149.7" stroke="#70727f" stroke-width="0.6" />
<path d="M525.1 110.6 L525.9 115.4 L524.3 115.4Z" fill="#3a3a44"/>
<path d="M525.1 149.7 L524.3 144.9 L525.9 144.9Z" fill="#3a3a44"/>
<text x="521.8" y="129.8" font-family="'Liberation Serif', serif" font-size="9.8" font-weight="normal" text-anchor="middle" fill="#25252c" stroke="#25252c" stroke-width="0.22" transform="rotate(-90 521.8 129.8)" >H</text>
<line x1="522" y1="149.7" x2="544" y2="149.7" stroke="#70727f" stroke-width="0.6" />
<line x1="535.6" y1="141.6" x2="544" y2="141.6" stroke="#70727f" stroke-width="0.6" />
<line x1="537.4" y1="135.3" x2="537.4" y2="156" stroke="#70727f" stroke-width="0.6" />
<path d="M537.4 141.6 L536.6 136.8 L538.2 136.8Z" fill="#3a3a44"/>
<path d="M537.4 149.7 L538.2 154.5 L536.6 154.5Z" fill="#3a3a44"/>
<text x="534.6" y="142.4" font-family="'Liberation Serif', serif" font-size="9.8" font-weight="normal" text-anchor="middle" fill="#25252c" stroke="#25252c" stroke-width="0.22" transform="rotate(-90 534.6 142.4)" >HA</text>
<text x="529.7" y="164.5" font-family="'Liberation Serif', serif" font-size="8.9" font-weight="normal" text-anchor="middle" fill="#25252c" stroke="#25252c" stroke-width="0.22" xml:space="preserve" word-spacing="-0.3">4- &#981; K</text>
<path d="M518.7 168.5 L537.2 168.5 L553.2 149.7" stroke="#70727f" stroke-width="0.6" fill="none" stroke-linejoin="round" />
<line x1="553.2" y1="165.1" x2="625.8" y2="165.1" stroke="#70727f" stroke-width="0.6" />
<path d="M553.2 165.1 L558 164.3 L558 165.9Z" fill="#3a3a44"/>
<path d="M625.8 165.1 L621 165.9 L621 164.3Z" fill="#3a3a44"/>
<line x1="553.2" y1="149.7" x2="553.2" y2="167.1" stroke="#70727f" stroke-width="0.6" />
<line x1="625.8" y1="149.7" x2="625.8" y2="167.1" stroke="#70727f" stroke-width="0.6" />
<text x="590.7" y="161" font-family="'Liberation Serif', serif" font-size="9.8" font-weight="normal" text-anchor="middle" fill="#25252c" stroke="#25252c" stroke-width="0.22" >A</text>
<line x1="544" y1="180.4" x2="635" y2="180.4" stroke="#70727f" stroke-width="0.6" />
<path d="M544 180.4 L548.8 179.6 L548.8 181.2Z" fill="#3a3a44"/>
<path d="M635 180.4 L630.2 181.2 L630.2 179.6Z" fill="#3a3a44"/>
<line x1="544" y1="149.7" x2="544" y2="182.4" stroke="#70727f" stroke-width="0.6" />
<line x1="635" y1="149.7" x2="635" y2="182.4" stroke="#70727f" stroke-width="0.6" />
<text x="592.7" y="176.7" font-family="'Liberation Serif', serif" font-size="9.8" font-weight="normal" text-anchor="middle" fill="#25252c" stroke="#25252c" stroke-width="0.22" >AB</text>
<path d="M50.6 250.4 L36.6 250.4 Q33 250.4 33 254 L33 320.1 Q33 323.7 36.6 323.7 L50.6 323.7" stroke="#1d1d24" stroke-width="1.18" fill="#d2d6e9" stroke-linejoin="round" />
<line x1="50.6" y1="250.4" x2="50.6" y2="323.7" stroke="#1d1d24" stroke-width="2.01" />
<rect x="45.6" y="248.9" width="5" height="1.7" fill="#1a1a20"/>
<rect x="48.1" y="323.5" width="2.5" height="1.2" fill="#1a1a20"/>
<rect x="30.8" y="270.55" width="2.2" height="33" fill="#8e909e" stroke="#1d1d24" stroke-width="0.7"/>
<path d="M138.7 250.4 L152.9 250.4 Q156.5 250.4 156.5 254 L156.5 320.1 Q156.5 323.7 152.9 323.7 L138.7 323.7" stroke="#1d1d24" stroke-width="1.18" fill="#d2d6e9" stroke-linejoin="round" />
<line x1="138.7" y1="250.4" x2="138.7" y2="323.7" stroke="#1d1d24" stroke-width="2.01" />
<rect x="138.7" y="248.9" width="5" height="1.7" fill="#1a1a20"/>
<rect x="138.7" y="323.5" width="2.5" height="1.2" fill="#1a1a20"/>
<rect x="156.5" y="270.55" width="3" height="33" fill="#8e909e" stroke="#1d1d24" stroke-width="0.7"/>
<line x1="51" y1="249.4" x2="55.7" y2="259.7" stroke="#1d1d24" stroke-width="1.18" />
<line x1="51" y1="324.7" x2="55.7" y2="315.1" stroke="#1d1d24" stroke-width="1.18" />
<line x1="54.7" y1="258.1" x2="54.7" y2="316.7" stroke="#1d1d24" stroke-width="0.94" />
<line x1="56.1" y1="259.7" x2="56.1" y2="315.1" stroke="#1d1d24" stroke-width="0.94" />
<line x1="138.3" y1="249.4" x2="134.6" y2="259.7" stroke="#1d1d24" stroke-width="1.18" />
<line x1="138.3" y1="324.7" x2="134.6" y2="315.1" stroke="#1d1d24" stroke-width="1.18" />
<line x1="135.6" y1="258.1" x2="135.6" y2="316.7" stroke="#1d1d24" stroke-width="0.94" />
<line x1="134.2" y1="259.7" x2="134.2" y2="315.1" stroke="#1d1d24" stroke-width="0.94" />
<line x1="31.3" y1="231.5" x2="159.1" y2="231.5" stroke="#70727f" stroke-width="0.6" />
<path d="M31.3 231.5 L36.1 230.7 L36.1 232.3Z" fill="#3a3a44"/>
<path d="M159.1 231.5 L154.3 232.3 L154.3 230.7Z" fill="#3a3a44"/>
<text x="96.3" y="225.7" font-family="'Liberation Serif', serif" font-size="9.8" font-weight="normal" text-anchor="middle" fill="#25252c" stroke="#25252c" stroke-width="0.22" >L</text>
<line x1="31.3" y1="229.5" x2="31.3" y2="270.2" stroke="#70727f" stroke-width="0.6" />
<line x1="159.1" y1="229.5" x2="159.1" y2="270.2" stroke="#70727f" stroke-width="0.6" />
<line x1="55.7" y1="259.7" x2="134.6" y2="259.7" stroke="#1d1d24" stroke-width="1.18" />
<line x1="60.4" y1="259.7" x2="60.4" y2="315.1" stroke="#1d1d24" stroke-width="1.42" />
<line x1="131.4" y1="259.7" x2="131.4" y2="315.1" stroke="#1d1d24" stroke-width="1.3" />
<line x1="60.4" y1="262.1" x2="131.4" y2="262.1" stroke="#1d1d24" stroke-width="1.06" />
<line x1="55.7" y1="315.1" x2="134.6" y2="315.1" stroke="#1d1d24" stroke-width="1.18" />
<line x1="73.6" y1="262.6" x2="73.6" y2="314.4" stroke="#3c3c47" stroke-width="0.83" />
<line x1="117.2" y1="262.6" x2="117.2" y2="314.4" stroke="#3c3c47" stroke-width="0.83" />
<path d="M77.1 262.6 C76.44 267.55 75.9 270.3 75.9 273.6 L75.9 303.4 C75.9 306.7 76.44 309.45 77.1 314.4 C77.76 309.45 78.3 306.7 78.3 303.4 L78.3 273.6 C78.3 270.3 77.76 267.55 77.1 262.6 Z" stroke="#1d1d24" stroke-width="1.12" fill="#8a8d9f" stroke-linejoin="miter"/>
<path d="M82.8 262.6 C82.14 267.55 81.6 270.3 81.6 273.6 L81.6 303.4 C81.6 306.7 82.14 309.45 82.8 314.4 C83.46 309.45 84 306.7 84 303.4 L84 273.6 C84 270.3 83.46 267.55 82.8 262.6 Z" stroke="#1d1d24" stroke-width="1.12" fill="#8a8d9f" stroke-linejoin="miter"/>
<path d="M108.8 262.6 C108.14 267.55 107.6 270.3 107.6 273.6 L107.6 303.4 C107.6 306.7 108.14 309.45 108.8 314.4 C109.46 309.45 110 306.7 110 303.4 L110 273.6 C110 270.3 109.46 267.55 108.8 262.6 Z" stroke="#1d1d24" stroke-width="1.12" fill="#8a8d9f" stroke-linejoin="miter"/>
<path d="M114.8 262.6 C114.14 267.55 113.6 270.3 113.6 273.6 L113.6 303.4 C113.6 306.7 114.14 309.45 114.8 314.4 C115.46 309.45 116 306.7 116 303.4 L116 273.6 C116 270.3 115.46 267.55 114.8 262.6 Z" stroke="#1d1d24" stroke-width="1.12" fill="#8a8d9f" stroke-linejoin="miter"/>
<path d="M64.6 270.8 C63.86 275.75 63.25 278.5 63.25 281.8 L63.25 303.4 C63.25 306.7 63.86 309.45 64.6 314.4 C65.34 309.45 65.95 306.7 65.95 303.4 L65.95 281.8 C65.95 278.5 65.34 275.75 64.6 270.8 Z" stroke="#1d1d24" stroke-width="1.12" fill="#8a8d9f" stroke-linejoin="miter"/>
<path d="M70.6 270.8 C69.86 275.75 69.25 278.5 69.25 281.8 L69.25 303.4 C69.25 306.7 69.86 309.45 70.6 314.4 C71.34 309.45 71.95 306.7 71.95 303.4 L71.95 281.8 C71.95 278.5 71.34 275.75 70.6 270.8 Z" stroke="#1d1d24" stroke-width="1.12" fill="#8a8d9f" stroke-linejoin="miter"/>
<line x1="89.2" y1="278" x2="89.2" y2="312" stroke="#1d1d24" stroke-width="0.94" />
<line x1="91" y1="278" x2="91" y2="312" stroke="#1d1d24" stroke-width="0.94" />
<path d="M89.2 312 Q90.1 315 91 312" stroke="#1d1d24" stroke-width="0.94" fill="none" stroke-linejoin="round" />
<line x1="100.9" y1="278" x2="100.9" y2="312" stroke="#1d1d24" stroke-width="0.94" />
<line x1="102.7" y1="278" x2="102.7" y2="312" stroke="#1d1d24" stroke-width="0.94" />
<path d="M100.9 312 Q101.8 315 102.7 312" stroke="#1d1d24" stroke-width="0.94" fill="none" stroke-linejoin="round" />
<path d="M61.2 293 L63.2 290.4 L65.4 290.4" stroke="#1d1d24" stroke-width="1.06" fill="none" stroke-linejoin="round" />
<line x1="63.3" y1="290.4" x2="63.3" y2="314.4" stroke="#3c3c47" stroke-width="0.83" />
<path d="M125.4 289.6 L127.6 289.6 L129.2 292 L129.2 314.4" stroke="#1d1d24" stroke-width="1.06" fill="none" stroke-linejoin="round" />
<line x1="95.35" y1="274.5" x2="95.35" y2="321" stroke="#1d1d24" stroke-width="1.47" />
<path d="M84.5 317.6 L84.5 295.7 A1.85 1.85 0 0 1 88.2 295.7 L88.2 317.6" stroke="#1d1d24" stroke-width="1.06" fill="#d2d6e9" stroke-linejoin="round" />
<path d="M102.95 317.6 L102.95 295.7 A1.85 1.85 0 0 1 106.65 295.7 L106.65 317.6" stroke="#1d1d24" stroke-width="1.06" fill="#d2d6e9" stroke-linejoin="round" />
<rect x="59.7" y="261.9" width="12.1" height="2.9" rx="0" stroke="#1d1d24" stroke-width="0.94" fill="#d2d6e9"/>
<rect x="58.5" y="264.8" width="14.5" height="2.3" rx="0" stroke="#1d1d24" stroke-width="0.94" fill="#d2d6e9"/>
<rect x="59.7" y="267.1" width="12.1" height="3.2" rx="0" stroke="#1d1d24" stroke-width="0.94" fill="#d2d6e9"/>
<rect x="119.4" y="260.4" width="9.4" height="2.9" rx="0" stroke="#1d1d24" stroke-width="0.94" fill="#d2d6e9"/>
<rect x="118.2" y="263.3" width="11.8" height="2.3" rx="0" stroke="#1d1d24" stroke-width="0.94" fill="#d2d6e9"/>
<rect x="119.4" y="265.6" width="9.4" height="3.2" rx="0" stroke="#1d1d24" stroke-width="0.94" fill="#d2d6e9"/>
<line x1="119.4" y1="268.8" x2="119.4" y2="314.4" stroke="#3c3c47" stroke-width="0.83" />
<line x1="121.6" y1="268.8" x2="121.6" y2="314.4" stroke="#3c3c47" stroke-width="0.83" />
<line x1="126.6" y1="268.8" x2="126.6" y2="314.4" stroke="#3c3c47" stroke-width="0.83" />
<line x1="128.8" y1="268.8" x2="128.8" y2="314.4" stroke="#3c3c47" stroke-width="0.83" />
<rect x="60.6" y="252.3" width="2.2" height="9.8" rx="0" stroke="#1d1d24" stroke-width="0.94" fill="#d2d6e9"/>
<rect x="62.7" y="247" width="20.2" height="15.1" rx="0" stroke="#1d1d24" stroke-width="1.18" fill="#d2d6e9"/>
<path d="M82.7 248.6 L99.8 248.6 L103.6 252.3 L103.6 260.2" stroke="#1d1d24" stroke-width="1.18" fill="#d2d6e9" stroke-linejoin="round" />
<path d="M91.9 260.2 L91.9 257 A3.7 3.7 0 0 1 99.3 257 L99.3 260.2" stroke="#1d1d24" stroke-width="1.77" fill="none" stroke-linejoin="round" />
<path d="M87.6 267.3 L88.9 260.8 L90.2 267.3" stroke="#3c3c47" stroke-width="0.83" fill="#8e909e" stroke-linejoin="round" />
<path d="M94 267.3 L95.3 260.8 L96.6 267.3" stroke="#3c3c47" stroke-width="0.83" fill="#8e909e" stroke-linejoin="round" />
<path d="M100.3 267.3 L101.6 260.8 L102.9 267.3" stroke="#3c3c47" stroke-width="0.83" fill="#8e909e" stroke-linejoin="round" />
<line x1="82.7" y1="260.2" x2="108" y2="260.2" stroke="#1d1d24" stroke-width="1.06" />
<rect x="84.5" y="267.4" width="21.9" height="10.6" rx="0" stroke="#1d1d24" stroke-width="1.18" fill="#d2d6e9"/>
<path d="M61.3 315.1 L61.3 325.3 L129.3 325.3 L129.3 315.1" stroke="#1d1d24" stroke-width="1.18" fill="none" stroke-linejoin="round" />
<line x1="64.5" y1="318" x2="126.1" y2="318" stroke="#1d1d24" stroke-width="0.94" />
<path d="M64.5 318 Q63.3 317.8 63.3 315.1" stroke="#1d1d24" stroke-width="0.94" fill="none" stroke-linejoin="round" />
<path d="M126.1 318 Q127.3 317.8 127.3 315.1" stroke="#1d1d24" stroke-width="0.94" fill="none" stroke-linejoin="round" />
<line x1="24.5" y1="287.2" x2="165.5" y2="287.2" stroke="#5a5c6a" stroke-width="0.6" stroke-dasharray="9 1.5 1.5 1.5"/>
<line x1="70.4" y1="318" x2="70.4" y2="325.3" stroke="#1d1d24" stroke-width="0.94" />
<line x1="74.6" y1="318" x2="74.6" y2="325.3" stroke="#1d1d24" stroke-width="0.94" />
<line x1="78.51" y1="318" x2="78.51" y2="325.3" stroke="#1d1d24" stroke-width="0.94" />
<line x1="112.6" y1="318" x2="112.6" y2="325.3" stroke="#1d1d24" stroke-width="0.94" />
<line x1="116.8" y1="318" x2="116.8" y2="325.3" stroke="#1d1d24" stroke-width="0.94" />
<line x1="120.71" y1="318" x2="120.71" y2="325.3" stroke="#1d1d24" stroke-width="0.94" />
<line x1="74.8" y1="337.2" x2="116.6" y2="337.2" stroke="#70727f" stroke-width="0.6" />
<path d="M74.8 337.2 L79.6 336.4 L79.6 338Z" fill="#3a3a44"/>
<path d="M116.6 337.2 L111.8 338 L111.8 336.4Z" fill="#3a3a44"/>
<line x1="74.8" y1="325.3" x2="74.8" y2="339.2" stroke="#70727f" stroke-width="0.6" />
<line x1="116.6" y1="325.3" x2="116.6" y2="339.2" stroke="#70727f" stroke-width="0.6" />
<text x="96.2" y="332.5" font-family="'Liberation Serif', serif" font-size="9.8" font-weight="normal" text-anchor="middle" fill="#25252c" stroke="#25252c" stroke-width="0.22" >B</text>
<line x1="61.4" y1="349.5" x2="129" y2="349.5" stroke="#70727f" stroke-width="0.6" />
<path d="M61.4 349.5 L66.2 348.7 L66.2 350.3Z" fill="#3a3a44"/>
<path d="M129 349.5 L124.2 350.3 L124.2 348.7Z" fill="#3a3a44"/>
<line x1="61.4" y1="325.3" x2="61.4" y2="351.5" stroke="#70727f" stroke-width="0.6" />
<line x1="129" y1="325.3" x2="129" y2="351.5" stroke="#70727f" stroke-width="0.6" />
<text x="97.2" y="345.5" font-family="'Liberation Serif', serif" font-size="9.8" font-weight="normal" text-anchor="middle" fill="#25252c" stroke="#25252c" stroke-width="0.22" >BB</text>
<line x1="248.7" y1="244.3" x2="248.7" y2="328.3" stroke="#5a5c6a" stroke-width="0.6" stroke-dasharray="9 1.5 1.5 1.5"/>
<line x1="181.2" y1="287.3" x2="287.2" y2="287.3" stroke="#5a5c6a" stroke-width="0.6" stroke-dasharray="9 1.5 1.5 1.5"/>
<line x1="218.3" y1="294.3" x2="203.2" y2="318.3" stroke="#70727f" stroke-width="0.7" />
<path d="M227.1 318.3 L203.2 318.3 L203.2 326.4 L227.1 326.4" stroke="#1d1d24" stroke-width="1.18" fill="none" stroke-linejoin="round" />
<line x1="208.3" y1="318.3" x2="208.3" y2="326.4" stroke="#1d1d24" stroke-width="1.06" />
<line x1="212.4" y1="318.3" x2="212.4" y2="326.4" stroke="#1d1d24" stroke-width="1.06" />
<line x1="216.4" y1="318.3" x2="216.4" y2="326.4" stroke="#1d1d24" stroke-width="1.06" />
<line x1="227.1" y1="318.3" x2="231.4" y2="313.3" stroke="#1d1d24" stroke-width="1.06" />
<path d="M227.1 326.4 L231.4 323.2 L248.7 318.9" stroke="#1d1d24" stroke-width="1.06" fill="none" stroke-linejoin="round" />
<line x1="279.1" y1="294.3" x2="294.2" y2="318.3" stroke="#1d1d24" stroke-width="1.18" />
<path d="M270.3 318.3 L294.2 318.3 L294.2 326.4 L270.3 326.4" stroke="#1d1d24" stroke-width="1.18" fill="none" stroke-linejoin="round" />
<line x1="289.1" y1="318.3" x2="289.1" y2="326.4" stroke="#1d1d24" stroke-width="1.06" />
<line x1="285" y1="318.3" x2="285" y2="326.4" stroke="#1d1d24" stroke-width="1.06" />
<line x1="281" y1="318.3" x2="281" y2="326.4" stroke="#1d1d24" stroke-width="1.06" />
<line x1="270.3" y1="318.3" x2="266" y2="313.3" stroke="#1d1d24" stroke-width="1.06" />
<path d="M270.3 326.4 L266 323.2 L248.7 318.9" stroke="#1d1d24" stroke-width="1.06" fill="none" stroke-linejoin="round" />
<circle cx="248.7" cy="287.3" r="31.2" stroke="#1d1d24" stroke-width="1.3" fill="none"/>
<circle cx="248.7" cy="287.3" r="16.6" stroke="#1d1d24" stroke-width="1.18" fill="none"/>
<circle cx="248.7" cy="287.3" r="14.1" stroke="#1d1d24" stroke-width="1.18" fill="none"/>
<circle cx="248.7" cy="287.3" r="15.35" stroke="#8a8c9a" stroke-width="0.5" fill="none"/>
<rect x="225" y="263.6" width="2.8" height="2.8" rx="0.6" fill="#15151a"/>
<rect x="225" y="308.2" width="2.8" height="2.8" rx="0.6" fill="#15151a"/>
<rect x="269.6" y="263.6" width="2.8" height="2.8" rx="0.6" fill="#15151a"/>
<rect x="269.6" y="308.2" width="2.8" height="2.8" rx="0.6" fill="#15151a"/>
<path d="M239.1 257.91 L239.1 247.8 L258.4 247.8 L258.4 257.91" stroke="#1d1d24" stroke-width="1.18" fill="none" stroke-linejoin="round" />
<rect x="238.55" y="246.65" width="2.3" height="2.3" fill="#15151a" transform="rotate(45 239.7 247.8)"/>
<rect x="255.95" y="246.65" width="2.3" height="2.3" fill="#15151a" transform="rotate(45 257.1 247.8)"/>
<path d="M239.1 249.4 L235 250.2 L233.8 251.8 L233.8 258.4 L239.1 257.8" stroke="#1d1d24" stroke-width="0.94" fill="#d2d6e9" stroke-linejoin="round" />
<line x1="235.3" y1="250.6" x2="235.3" y2="258.1" stroke="#3c3c47" stroke-width="0.71" />
<line x1="236.8" y1="250.6" x2="236.8" y2="258.1" stroke="#3c3c47" stroke-width="0.71" />
<line x1="238.1" y1="250.6" x2="238.1" y2="258.1" stroke="#3c3c47" stroke-width="0.71" />
<rect x="222.7" y="252.4" width="11.1" height="7.3" rx="0" stroke="#1d1d24" stroke-width="0.94" fill="#d2d6e9"/>
<path d="M222.7 253.4 L205.5 253.4" stroke="#1d1d24" stroke-width="0.94" fill="none" stroke-linejoin="round" />
<path d="M222.7 258.9 L205.5 258.9" stroke="#1d1d24" stroke-width="0.94" fill="none" stroke-linejoin="round" />
<rect x="206.2" y="256" width="16.5" height="2.9" fill="#9c9eab"/>
<line x1="205.5" y1="256" x2="222.7" y2="256" stroke="#3c3c47" stroke-width="0.71" />
<path d="M205.5 253.4 L204.5 255 L206.1 256.8 L205.1 258.9" stroke="#1d1d24" stroke-width="0.83" fill="none" stroke-linejoin="round" />
<line x1="258.4" y1="247.8" x2="308.5" y2="247.8" stroke="#70727f" stroke-width="0.6" />
<line x1="294.2" y1="326.4" x2="308.5" y2="326.4" stroke="#70727f" stroke-width="0.6" />
<line x1="306" y1="247.8" x2="306" y2="326.4" stroke="#70727f" stroke-width="0.6" />
<path d="M306 247.8 L306.8 252.6 L305.2 252.6Z" fill="#3a3a44"/>
<path d="M306 326.4 L305.2 321.6 L306.8 321.6Z" fill="#3a3a44"/>
<text x="301.9" y="285.1" font-family="'Liberation Serif', serif" font-size="9.8" font-weight="normal" text-anchor="middle" fill="#25252c" stroke="#25252c" stroke-width="0.22" transform="rotate(-90 301.9 285.1)" >HD</text>
<line x1="184.3" y1="287.3" x2="184.3" y2="326.4" stroke="#70727f" stroke-width="0.6" />
<path d="M184.3 287.3 L185.1 292.1 L183.5 292.1Z" fill="#3a3a44"/>
<path d="M184.3 326.4 L183.5 321.6 L185.1 321.6Z" fill="#3a3a44"/>
<text x="181" y="306.6" font-family="'Liberation Serif', serif" font-size="9.8" font-weight="normal" text-anchor="middle" fill="#25252c" stroke="#25252c" stroke-width="0.22" transform="rotate(-90 181 306.6)" >H</text>
<line x1="181.2" y1="326.4" x2="203.2" y2="326.4" stroke="#70727f" stroke-width="0.6" />
<line x1="194.8" y1="318.3" x2="203.2" y2="318.3" stroke="#70727f" stroke-width="0.6" />
<line x1="196.6" y1="312" x2="196.6" y2="332.7" stroke="#70727f" stroke-width="0.6" />
<path d="M196.6 318.3 L195.8 313.5 L197.4 313.5Z" fill="#3a3a44"/>
<path d="M196.6 326.4 L197.4 331.2 L195.8 331.2Z" fill="#3a3a44"/>
<text x="193.8" y="318.8" font-family="'Liberation Serif', serif" font-size="9.8" font-weight="normal" text-anchor="middle" fill="#25252c" stroke="#25252c" stroke-width="0.22" transform="rotate(-90 193.8 318.8)" >HA</text>
<text x="188.9" y="341.5" font-family="'Liberation Serif', serif" font-size="8.9" font-weight="normal" text-anchor="middle" fill="#25252c" stroke="#25252c" stroke-width="0.22" xml:space="preserve" word-spacing="-0.3">4- &#981; K</text>
<path d="M177.9 345.7 L196.4 345.7 L212.4 326.4" stroke="#70727f" stroke-width="0.6" fill="none" stroke-linejoin="round" />
<line x1="212.4" y1="341.8" x2="285" y2="341.8" stroke="#70727f" stroke-width="0.6" />
<path d="M212.4 341.8 L217.2 341 L217.2 342.6Z" fill="#3a3a44"/>
<path d="M285 341.8 L280.2 342.6 L280.2 341Z" fill="#3a3a44"/>
<line x1="212.4" y1="326.4" x2="212.4" y2="343.8" stroke="#70727f" stroke-width="0.6" />
<line x1="285" y1="326.4" x2="285" y2="343.8" stroke="#70727f" stroke-width="0.6" />
<text x="249.9" y="337.6" font-family="'Liberation Serif', serif" font-size="9.8" font-weight="normal" text-anchor="middle" fill="#25252c" stroke="#25252c" stroke-width="0.22" >A</text>
<line x1="203.2" y1="357.4" x2="294.2" y2="357.4" stroke="#70727f" stroke-width="0.6" />
<path d="M203.2 357.4 L208 356.6 L208 358.2Z" fill="#3a3a44"/>
<path d="M294.2 357.4 L289.4 358.2 L289.4 356.6Z" fill="#3a3a44"/>
<line x1="203.2" y1="326.4" x2="203.2" y2="359.4" stroke="#70727f" stroke-width="0.6" />
<line x1="294.2" y1="326.4" x2="294.2" y2="359.4" stroke="#70727f" stroke-width="0.6" />
<text x="251.9" y="353.3" font-family="'Liberation Serif', serif" font-size="9.8" font-weight="normal" text-anchor="middle" fill="#25252c" stroke="#25252c" stroke-width="0.22" >AB</text>
<path d="M390.6 250.6 L376.6 250.6 Q373 250.6 373 254.2 L373 320.3 Q373 323.9 376.6 323.9 L390.6 323.9" stroke="#1d1d24" stroke-width="1.18" fill="#d2d6e9" stroke-linejoin="round" />
<line x1="390.6" y1="250.6" x2="390.6" y2="323.9" stroke="#1d1d24" stroke-width="2.01" />
<rect x="385.6" y="249.1" width="5" height="1.7" fill="#1a1a20"/>
<rect x="388.1" y="323.7" width="2.5" height="1.2" fill="#1a1a20"/>
<rect x="370.8" y="270.75" width="2.2" height="33" fill="#8e909e" stroke="#1d1d24" stroke-width="0.7"/>
<path d="M478.7 250.6 L492.9 250.6 Q496.5 250.6 496.5 254.2 L496.5 320.3 Q496.5 323.9 492.9 323.9 L478.7 323.9" stroke="#1d1d24" stroke-width="1.18" fill="#d2d6e9" stroke-linejoin="round" />
<line x1="478.7" y1="250.6" x2="478.7" y2="323.9" stroke="#1d1d24" stroke-width="2.01" />
<rect x="478.7" y="249.1" width="5" height="1.7" fill="#1a1a20"/>
<rect x="478.7" y="323.7" width="2.5" height="1.2" fill="#1a1a20"/>
<rect x="496.5" y="270.75" width="3" height="33" fill="#8e909e" stroke="#1d1d24" stroke-width="0.7"/>
<line x1="391" y1="249.6" x2="395.7" y2="259.9" stroke="#1d1d24" stroke-width="1.18" />
<line x1="391" y1="324.9" x2="395.7" y2="315.3" stroke="#1d1d24" stroke-width="1.18" />
<line x1="394.7" y1="258.3" x2="394.7" y2="316.9" stroke="#1d1d24" stroke-width="0.94" />
<line x1="396.1" y1="259.9" x2="396.1" y2="315.3" stroke="#1d1d24" stroke-width="0.94" />
<line x1="478.3" y1="249.6" x2="474.6" y2="259.9" stroke="#1d1d24" stroke-width="1.18" />
<line x1="478.3" y1="324.9" x2="474.6" y2="315.3" stroke="#1d1d24" stroke-width="1.18" />
<line x1="475.6" y1="258.3" x2="475.6" y2="316.9" stroke="#1d1d24" stroke-width="0.94" />
<line x1="474.2" y1="259.9" x2="474.2" y2="315.3" stroke="#1d1d24" stroke-width="0.94" />
<line x1="371.5" y1="231.6" x2="499.1" y2="231.6" stroke="#70727f" stroke-width="0.6" />
<path d="M371.5 231.6 L376.3 230.8 L376.3 232.4Z" fill="#3a3a44"/>
<path d="M499.1 231.6 L494.3 232.4 L494.3 230.8Z" fill="#3a3a44"/>
<text x="435" y="225.7" font-family="'Liberation Serif', serif" font-size="9.8" font-weight="normal" text-anchor="middle" fill="#25252c" stroke="#25252c" stroke-width="0.22" >L</text>
<line x1="371.5" y1="229.6" x2="371.5" y2="270.4" stroke="#70727f" stroke-width="0.6" />
<line x1="499.1" y1="229.6" x2="499.1" y2="270.4" stroke="#70727f" stroke-width="0.6" />
<line x1="395.7" y1="259.9" x2="474.6" y2="259.9" stroke="#1d1d24" stroke-width="1.18" />
<line x1="400.4" y1="259.9" x2="400.4" y2="315.3" stroke="#1d1d24" stroke-width="1.42" />
<line x1="471.4" y1="259.9" x2="471.4" y2="315.3" stroke="#1d1d24" stroke-width="1.3" />
<line x1="400.4" y1="262.3" x2="471.4" y2="262.3" stroke="#1d1d24" stroke-width="1.06" />
<line x1="395.7" y1="315.3" x2="474.6" y2="315.3" stroke="#1d1d24" stroke-width="1.18" />
<line x1="413.6" y1="262.8" x2="413.6" y2="314.6" stroke="#3c3c47" stroke-width="0.83" />
<line x1="457.2" y1="262.8" x2="457.2" y2="314.6" stroke="#3c3c47" stroke-width="0.83" />
<path d="M417.1 262.8 C416.44 267.75 415.9 270.5 415.9 273.8 L415.9 303.6 C415.9 306.9 416.44 309.65 417.1 314.6 C417.76 309.65 418.3 306.9 418.3 303.6 L418.3 273.8 C418.3 270.5 417.76 267.75 417.1 262.8 Z" stroke="#1d1d24" stroke-width="1.12" fill="#8a8d9f" stroke-linejoin="miter"/>
<path d="M422.8 262.8 C422.14 267.75 421.6 270.5 421.6 273.8 L421.6 303.6 C421.6 306.9 422.14 309.65 422.8 314.6 C423.46 309.65 424 306.9 424 303.6 L424 273.8 C424 270.5 423.46 267.75 422.8 262.8 Z" stroke="#1d1d24" stroke-width="1.12" fill="#8a8d9f" stroke-linejoin="miter"/>
<path d="M448.8 262.8 C448.14 267.75 447.6 270.5 447.6 273.8 L447.6 303.6 C447.6 306.9 448.14 309.65 448.8 314.6 C449.46 309.65 450 306.9 450 303.6 L450 273.8 C450 270.5 449.46 267.75 448.8 262.8 Z" stroke="#1d1d24" stroke-width="1.12" fill="#8a8d9f" stroke-linejoin="miter"/>
<path d="M454.8 262.8 C454.14 267.75 453.6 270.5 453.6 273.8 L453.6 303.6 C453.6 306.9 454.14 309.65 454.8 314.6 C455.46 309.65 456 306.9 456 303.6 L456 273.8 C456 270.5 455.46 267.75 454.8 262.8 Z" stroke="#1d1d24" stroke-width="1.12" fill="#8a8d9f" stroke-linejoin="miter"/>
<path d="M404.6 271 C403.86 275.95 403.25 278.7 403.25 282 L403.25 303.6 C403.25 306.9 403.86 309.65 404.6 314.6 C405.34 309.65 405.95 306.9 405.95 303.6 L405.95 282 C405.95 278.7 405.34 275.95 404.6 271 Z" stroke="#1d1d24" stroke-width="1.12" fill="#8a8d9f" stroke-linejoin="miter"/>
<path d="M410.6 271 C409.86 275.95 409.25 278.7 409.25 282 L409.25 303.6 C409.25 306.9 409.86 309.65 410.6 314.6 C411.34 309.65 411.95 306.9 411.95 303.6 L411.95 282 C411.95 278.7 411.34 275.95 410.6 271 Z" stroke="#1d1d24" stroke-width="1.12" fill="#8a8d9f" stroke-linejoin="miter"/>
<line x1="429.2" y1="278.2" x2="429.2" y2="312.2" stroke="#1d1d24" stroke-width="0.94" />
<line x1="431" y1="278.2" x2="431" y2="312.2" stroke="#1d1d24" stroke-width="0.94" />
<path d="M429.2 312.2 Q430.1 315.2 431 312.2" stroke="#1d1d24" stroke-width="0.94" fill="none" stroke-linejoin="round" />
<line x1="440.9" y1="278.2" x2="440.9" y2="312.2" stroke="#1d1d24" stroke-width="0.94" />
<line x1="442.7" y1="278.2" x2="442.7" y2="312.2" stroke="#1d1d24" stroke-width="0.94" />
<path d="M440.9 312.2 Q441.8 315.2 442.7 312.2" stroke="#1d1d24" stroke-width="0.94" fill="none" stroke-linejoin="round" />
<path d="M401.2 293.2 L403.2 290.6 L405.4 290.6" stroke="#1d1d24" stroke-width="1.06" fill="none" stroke-linejoin="round" />
<line x1="403.3" y1="290.6" x2="403.3" y2="314.6" stroke="#3c3c47" stroke-width="0.83" />
<path d="M465.4 289.8 L467.6 289.8 L469.2 292.2 L469.2 314.6" stroke="#1d1d24" stroke-width="1.06" fill="none" stroke-linejoin="round" />
<line x1="435.35" y1="274.7" x2="435.35" y2="321.2" stroke="#1d1d24" stroke-width="1.47" />
<path d="M424.5 317.8 L424.5 295.9 A1.85 1.85 0 0 1 428.2 295.9 L428.2 317.8" stroke="#1d1d24" stroke-width="1.06" fill="#d2d6e9" stroke-linejoin="round" />
<path d="M442.95 317.8 L442.95 295.9 A1.85 1.85 0 0 1 446.65 295.9 L446.65 317.8" stroke="#1d1d24" stroke-width="1.06" fill="#d2d6e9" stroke-linejoin="round" />
<rect x="399.7" y="262.1" width="12.1" height="2.9" rx="0" stroke="#1d1d24" stroke-width="0.94" fill="#d2d6e9"/>
<rect x="398.5" y="265" width="14.5" height="2.3" rx="0" stroke="#1d1d24" stroke-width="0.94" fill="#d2d6e9"/>
<rect x="399.7" y="267.3" width="12.1" height="3.2" rx="0" stroke="#1d1d24" stroke-width="0.94" fill="#d2d6e9"/>
<rect x="459.4" y="260.6" width="9.4" height="2.9" rx="0" stroke="#1d1d24" stroke-width="0.94" fill="#d2d6e9"/>
<rect x="458.2" y="263.5" width="11.8" height="2.3" rx="0" stroke="#1d1d24" stroke-width="0.94" fill="#d2d6e9"/>
<rect x="459.4" y="265.8" width="9.4" height="3.2" rx="0" stroke="#1d1d24" stroke-width="0.94" fill="#d2d6e9"/>
<line x1="459.4" y1="269" x2="459.4" y2="314.6" stroke="#3c3c47" stroke-width="0.83" />
<line x1="461.6" y1="269" x2="461.6" y2="314.6" stroke="#3c3c47" stroke-width="0.83" />
<line x1="466.6" y1="269" x2="466.6" y2="314.6" stroke="#3c3c47" stroke-width="0.83" />
<line x1="468.8" y1="269" x2="468.8" y2="314.6" stroke="#3c3c47" stroke-width="0.83" />
<rect x="400.6" y="252.5" width="2.2" height="9.8" rx="0" stroke="#1d1d24" stroke-width="0.94" fill="#d2d6e9"/>
<rect x="402.7" y="247.2" width="20.2" height="15.1" rx="0" stroke="#1d1d24" stroke-width="1.18" fill="#d2d6e9"/>
<path d="M422.7 248.8 L439.8 248.8 L443.6 252.5 L443.6 260.4" stroke="#1d1d24" stroke-width="1.18" fill="#d2d6e9" stroke-linejoin="round" />
<path d="M431.9 260.4 L431.9 257.2 A3.7 3.7 0 0 1 439.3 257.2 L439.3 260.4" stroke="#1d1d24" stroke-width="1.77" fill="none" stroke-linejoin="round" />
<path d="M427.6 267.5 L428.9 261 L430.2 267.5" stroke="#3c3c47" stroke-width="0.83" fill="#8e909e" stroke-linejoin="round" />
<path d="M434 267.5 L435.3 261 L436.6 267.5" stroke="#3c3c47" stroke-width="0.83" fill="#8e909e" stroke-linejoin="round" />
<path d="M440.3 267.5 L441.6 261 L442.9 267.5" stroke="#3c3c47" stroke-width="0.83" fill="#8e909e" stroke-linejoin="round" />
<line x1="422.7" y1="260.4" x2="448" y2="260.4" stroke="#1d1d24" stroke-width="1.06" />
<rect x="424.5" y="267.6" width="21.9" height="10.6" rx="0" stroke="#1d1d24" stroke-width="1.18" fill="#d2d6e9"/>
<path d="M401.3 315.3 L401.3 325.5 L469.3 325.5 L469.3 315.3" stroke="#1d1d24" stroke-width="1.18" fill="none" stroke-linejoin="round" />
<line x1="404.5" y1="318.2" x2="466.1" y2="318.2" stroke="#1d1d24" stroke-width="0.94" />
<path d="M404.5 318.2 Q403.3 318 403.3 315.3" stroke="#1d1d24" stroke-width="0.94" fill="none" stroke-linejoin="round" />
<path d="M466.1 318.2 Q467.3 318 467.3 315.3" stroke="#1d1d24" stroke-width="0.94" fill="none" stroke-linejoin="round" />
<line x1="364.5" y1="287.4" x2="505.5" y2="287.4" stroke="#5a5c6a" stroke-width="0.6" stroke-dasharray="9 1.5 1.5 1.5"/>
<line x1="410.1" y1="318.2" x2="410.1" y2="325.5" stroke="#1d1d24" stroke-width="0.94" />
<line x1="414.3" y1="318.2" x2="414.3" y2="325.5" stroke="#1d1d24" stroke-width="0.94" />
<line x1="418.21" y1="318.2" x2="418.21" y2="325.5" stroke="#1d1d24" stroke-width="0.94" />
<line x1="431.1" y1="318.2" x2="431.1" y2="325.5" stroke="#1d1d24" stroke-width="0.94" />
<line x1="435.3" y1="318.2" x2="435.3" y2="325.5" stroke="#1d1d24" stroke-width="0.94" />
<line x1="439.21" y1="318.2" x2="439.21" y2="325.5" stroke="#1d1d24" stroke-width="0.94" />
<line x1="451.8" y1="318.2" x2="451.8" y2="325.5" stroke="#1d1d24" stroke-width="0.94" />
<line x1="456" y1="318.2" x2="456" y2="325.5" stroke="#1d1d24" stroke-width="0.94" />
<line x1="459.91" y1="318.2" x2="459.91" y2="325.5" stroke="#1d1d24" stroke-width="0.94" />
<line x1="414" y1="338.9" x2="456.2" y2="338.9" stroke="#70727f" stroke-width="0.6" />
<line x1="414" y1="325.5" x2="414" y2="340.9" stroke="#70727f" stroke-width="0.6" />
<line x1="435.3" y1="325.5" x2="435.3" y2="340.9" stroke="#70727f" stroke-width="0.6" />
<line x1="456.2" y1="325.5" x2="456.2" y2="340.9" stroke="#70727f" stroke-width="0.6" />
<path d="M414 338.9 L418.8 338.1 L418.8 339.7Z" fill="#3a3a44"/>
<path d="M435.3 338.9 L430.5 339.7 L430.5 338.1Z" fill="#3a3a44"/>
<path d="M435.3 338.9 L440.1 338.1 L440.1 339.7Z" fill="#3a3a44"/>
<path d="M456.2 338.9 L451.4 339.7 L451.4 338.1Z" fill="#3a3a44"/>
<text x="425.2" y="335.4" font-family="'Liberation Serif', serif" font-size="9.8" font-weight="normal" text-anchor="middle" fill="#25252c" stroke="#25252c" stroke-width="0.22" >B</text>
<text x="446.8" y="335.4" font-family="'Liberation Serif', serif" font-size="9.8" font-weight="normal" text-anchor="middle" fill="#25252c" stroke="#25252c" stroke-width="0.22" >B</text>
<line x1="401.5" y1="350.6" x2="469.2" y2="350.6" stroke="#70727f" stroke-width="0.6" />
<path d="M401.5 350.6 L406.3 349.8 L406.3 351.4Z" fill="#3a3a44"/>
<path d="M469.2 350.6 L464.4 351.4 L464.4 349.8Z" fill="#3a3a44"/>
<line x1="401.5" y1="325.5" x2="401.5" y2="352.6" stroke="#70727f" stroke-width="0.6" />
<line x1="469.2" y1="325.5" x2="469.2" y2="352.6" stroke="#70727f" stroke-width="0.6" />
<text x="436.6" y="348.9" font-family="'Liberation Serif', serif" font-size="9.8" font-weight="normal" text-anchor="middle" fill="#25252c" stroke="#25252c" stroke-width="0.22" >BB</text>
<line x1="589" y1="244" x2="589" y2="328" stroke="#5a5c6a" stroke-width="0.6" stroke-dasharray="9 1.5 1.5 1.5"/>
<line x1="521.5" y1="287" x2="627.5" y2="287" stroke="#5a5c6a" stroke-width="0.6" stroke-dasharray="9 1.5 1.5 1.5"/>
<line x1="558.6" y1="294" x2="543.5" y2="318" stroke="#1d1d24" stroke-width="1.18" />
<path d="M567.4 318 L543.5 318 L543.5 326.1 L567.4 326.1" stroke="#1d1d24" stroke-width="1.18" fill="none" stroke-linejoin="round" />
<line x1="548.6" y1="318" x2="548.6" y2="326.1" stroke="#1d1d24" stroke-width="1.06" />
<line x1="552.7" y1="318" x2="552.7" y2="326.1" stroke="#1d1d24" stroke-width="1.06" />
<line x1="556.7" y1="318" x2="556.7" y2="326.1" stroke="#1d1d24" stroke-width="1.06" />
<line x1="567.4" y1="318" x2="571.7" y2="313" stroke="#1d1d24" stroke-width="1.06" />
<path d="M567.4 326.1 L571.7 322.9 L589 318.6" stroke="#1d1d24" stroke-width="1.06" fill="none" stroke-linejoin="round" />
<line x1="619.4" y1="294" x2="634.5" y2="318" stroke="#1d1d24" stroke-width="1.18" />
<path d="M610.6 318 L634.5 318 L634.5 326.1 L610.6 326.1" stroke="#1d1d24" stroke-width="1.18" fill="none" stroke-linejoin="round" />
<line x1="629.4" y1="318" x2="629.4" y2="326.1" stroke="#1d1d24" stroke-width="1.06" />
<line x1="625.3" y1="318" x2="625.3" y2="326.1" stroke="#1d1d24" stroke-width="1.06" />
<line x1="621.3" y1="318" x2="621.3" y2="326.1" stroke="#1d1d24" stroke-width="1.06" />
<line x1="610.6" y1="318" x2="606.3" y2="313" stroke="#1d1d24" stroke-width="1.06" />
<path d="M610.6 326.1 L606.3 322.9 L589 318.6" stroke="#1d1d24" stroke-width="1.06" fill="none" stroke-linejoin="round" />
<circle cx="589" cy="287" r="31.2" stroke="#1d1d24" stroke-width="1.3" fill="none"/>
<circle cx="589" cy="287" r="16.6" stroke="#1d1d24" stroke-width="1.18" fill="none"/>
<circle cx="589" cy="287" r="14.1" stroke="#1d1d24" stroke-width="1.18" fill="none"/>
<circle cx="589" cy="287" r="15.35" stroke="#8a8c9a" stroke-width="0.5" fill="none"/>
<rect x="565.3" y="263.3" width="2.8" height="2.8" rx="0.6" fill="#15151a"/>
<rect x="565.3" y="307.9" width="2.8" height="2.8" rx="0.6" fill="#15151a"/>
<rect x="609.9" y="263.3" width="2.8" height="2.8" rx="0.6" fill="#15151a"/>
<rect x="609.9" y="307.9" width="2.8" height="2.8" rx="0.6" fill="#15151a"/>
<path d="M579.4 257.61 L579.4 247.5 L598.7 247.5 L598.7 257.61" stroke="#1d1d24" stroke-width="1.18" fill="none" stroke-linejoin="round" />
<rect x="578.85" y="246.35" width="2.3" height="2.3" fill="#15151a" transform="rotate(45 580 247.5)"/>
<rect x="596.25" y="246.35" width="2.3" height="2.3" fill="#15151a" transform="rotate(45 597.4 247.5)"/>
<path d="M579.4 249.1 L575.3 249.9 L574.1 251.5 L574.1 258.1 L579.4 257.5" stroke="#1d1d24" stroke-width="0.94" fill="#d2d6e9" stroke-linejoin="round" />
<line x1="575.6" y1="250.3" x2="575.6" y2="257.8" stroke="#3c3c47" stroke-width="0.71" />
<line x1="577.1" y1="250.3" x2="577.1" y2="257.8" stroke="#3c3c47" stroke-width="0.71" />
<line x1="578.4" y1="250.3" x2="578.4" y2="257.8" stroke="#3c3c47" stroke-width="0.71" />
<rect x="563" y="252.1" width="11.1" height="7.3" rx="0" stroke="#1d1d24" stroke-width="0.94" fill="#d2d6e9"/>
<path d="M563 253.1 L545.8 253.1" stroke="#1d1d24" stroke-width="0.94" fill="none" stroke-linejoin="round" />
<path d="M563 258.6 L545.8 258.6" stroke="#1d1d24" stroke-width="0.94" fill="none" stroke-linejoin="round" />
<rect x="546.5" y="255.7" width="16.5" height="2.9" fill="#9c9eab"/>
<line x1="545.8" y1="255.7" x2="563" y2="255.7" stroke="#3c3c47" stroke-width="0.71" />
<path d="M545.8 253.1 L544.8 254.7 L546.4 256.5 L545.4 258.6" stroke="#1d1d24" stroke-width="0.83" fill="none" stroke-linejoin="round" />
<line x1="598.7" y1="247.5" x2="648.8" y2="247.5" stroke="#70727f" stroke-width="0.6" />
<line x1="634.5" y1="326.1" x2="648.8" y2="326.1" stroke="#70727f" stroke-width="0.6" />
<line x1="646.3" y1="247.5" x2="646.3" y2="326.1" stroke="#70727f" stroke-width="0.6" />
<path d="M646.3 247.5 L647.1 252.3 L645.5 252.3Z" fill="#3a3a44"/>
<path d="M646.3 326.1 L645.5 321.3 L647.1 321.3Z" fill="#3a3a44"/>
<text x="642.2" y="285.2" font-family="'Liberation Serif', serif" font-size="9.8" font-weight="normal" text-anchor="middle" fill="#25252c" stroke="#25252c" stroke-width="0.22" transform="rotate(-90 642.2 285.2)" >HD</text>
<line x1="524.6" y1="287" x2="524.6" y2="326.1" stroke="#70727f" stroke-width="0.6" />
<path d="M524.6 287 L525.4 291.8 L523.8 291.8Z" fill="#3a3a44"/>
<path d="M524.6 326.1 L523.8 321.3 L525.4 321.3Z" fill="#3a3a44"/>
<text x="521.3" y="306.3" font-family="'Liberation Serif', serif" font-size="9.8" font-weight="normal" text-anchor="middle" fill="#25252c" stroke="#25252c" stroke-width="0.22" transform="rotate(-90 521.3 306.3)" >H</text>
<line x1="521.5" y1="326.1" x2="543.5" y2="326.1" stroke="#70727f" stroke-width="0.6" />
<line x1="535.1" y1="318" x2="543.5" y2="318" stroke="#70727f" stroke-width="0.6" />
<line x1="536.9" y1="311.7" x2="536.9" y2="332.4" stroke="#70727f" stroke-width="0.6" />
<path d="M536.9 318 L536.1 313.2 L537.7 313.2Z" fill="#3a3a44"/>
<path d="M536.9 326.1 L537.7 330.9 L536.1 330.9Z" fill="#3a3a44"/>
<text x="534.1" y="317" font-family="'Liberation Serif', serif" font-size="9.8" font-weight="normal" text-anchor="middle" fill="#25252c" stroke="#25252c" stroke-width="0.22" transform="rotate(-90 534.1 317)" >HA</text>
<text x="529.2" y="340.9" font-family="'Liberation Serif', serif" font-size="8.9" font-weight="normal" text-anchor="middle" fill="#25252c" stroke="#25252c" stroke-width="0.22" xml:space="preserve" word-spacing="-0.3">6- &#981; K</text>
<path d="M518.2 345.4 L536.7 345.4 L552.7 326.1" stroke="#70727f" stroke-width="0.6" fill="none" stroke-linejoin="round" />
<line x1="552.7" y1="341.9" x2="625.3" y2="341.9" stroke="#70727f" stroke-width="0.6" />
<path d="M552.7 341.9 L557.5 341.1 L557.5 342.7Z" fill="#3a3a44"/>
<path d="M625.3 341.9 L620.5 342.7 L620.5 341.1Z" fill="#3a3a44"/>
<line x1="552.7" y1="326.1" x2="552.7" y2="343.9" stroke="#70727f" stroke-width="0.6" />
<line x1="625.3" y1="326.1" x2="625.3" y2="343.9" stroke="#70727f" stroke-width="0.6" />
<text x="590.2" y="337.7" font-family="'Liberation Serif', serif" font-size="9.8" font-weight="normal" text-anchor="middle" fill="#25252c" stroke="#25252c" stroke-width="0.22" >A</text>
<line x1="543.5" y1="357.1" x2="634.5" y2="357.1" stroke="#70727f" stroke-width="0.6" />
<path d="M543.5 357.1 L548.3 356.3 L548.3 357.9Z" fill="#3a3a44"/>
<path d="M634.5 357.1 L629.7 357.9 L629.7 356.3Z" fill="#3a3a44"/>
<line x1="543.5" y1="326.1" x2="543.5" y2="359.1" stroke="#70727f" stroke-width="0.6" />
<line x1="634.5" y1="326.1" x2="634.5" y2="359.1" stroke="#70727f" stroke-width="0.6" />
<text x="592.2" y="353.3" font-family="'Liberation Serif', serif" font-size="9.8" font-weight="normal" text-anchor="middle" fill="#25252c" stroke="#25252c" stroke-width="0.22" >AB</text>
<path d="M50.8 423.1 L36.8 423.1 Q33.2 423.1 33.2 426.7 L33.2 492.8 Q33.2 496.4 36.8 496.4 L50.8 496.4" stroke="#1d1d24" stroke-width="1.18" fill="#d2d6e9" stroke-linejoin="round" />
<line x1="50.8" y1="423.1" x2="50.8" y2="496.4" stroke="#1d1d24" stroke-width="2.01" />
<rect x="45.8" y="421.6" width="5" height="1.7" fill="#1a1a20"/>
<rect x="48.3" y="496.2" width="2.5" height="1.2" fill="#1a1a20"/>
<rect x="31" y="443.25" width="2.2" height="33" fill="#8e909e" stroke="#1d1d24" stroke-width="0.7"/>
<path d="M138.9 423.1 L153.1 423.1 Q156.7 423.1 156.7 426.7 L156.7 492.8 Q156.7 496.4 153.1 496.4 L138.9 496.4" stroke="#1d1d24" stroke-width="1.18" fill="#d2d6e9" stroke-linejoin="round" />
<line x1="138.9" y1="423.1" x2="138.9" y2="496.4" stroke="#1d1d24" stroke-width="2.01" />
<rect x="138.9" y="421.6" width="5" height="1.7" fill="#1a1a20"/>
<rect x="138.9" y="496.2" width="2.5" height="1.2" fill="#1a1a20"/>
<rect x="156.7" y="443.25" width="3" height="33" fill="#8e909e" stroke="#1d1d24" stroke-width="0.7"/>
<line x1="51.2" y1="422.1" x2="55.9" y2="432.4" stroke="#1d1d24" stroke-width="1.18" />
<line x1="51.2" y1="497.4" x2="55.9" y2="487.8" stroke="#1d1d24" stroke-width="1.18" />
<line x1="54.9" y1="430.8" x2="54.9" y2="489.4" stroke="#1d1d24" stroke-width="0.94" />
<line x1="56.3" y1="432.4" x2="56.3" y2="487.8" stroke="#1d1d24" stroke-width="0.94" />
<line x1="138.5" y1="422.1" x2="134.8" y2="432.4" stroke="#1d1d24" stroke-width="1.18" />
<line x1="138.5" y1="497.4" x2="134.8" y2="487.8" stroke="#1d1d24" stroke-width="1.18" />
<line x1="135.8" y1="430.8" x2="135.8" y2="489.4" stroke="#1d1d24" stroke-width="0.94" />
<line x1="134.4" y1="432.4" x2="134.4" y2="487.8" stroke="#1d1d24" stroke-width="0.94" />
<line x1="31.5" y1="404.7" x2="159.3" y2="404.7" stroke="#70727f" stroke-width="0.6" />
<path d="M31.5 404.7 L36.3 403.9 L36.3 405.5Z" fill="#3a3a44"/>
<path d="M159.3 404.7 L154.5 405.5 L154.5 403.9Z" fill="#3a3a44"/>
<text x="94.9" y="401.3" font-family="'Liberation Serif', serif" font-size="9.8" font-weight="normal" text-anchor="middle" fill="#25252c" stroke="#25252c" stroke-width="0.22" >L</text>
<line x1="31.5" y1="402.7" x2="31.5" y2="442.9" stroke="#70727f" stroke-width="0.6" />
<line x1="159.3" y1="402.7" x2="159.3" y2="442.9" stroke="#70727f" stroke-width="0.6" />
<line x1="55.9" y1="432.4" x2="134.8" y2="432.4" stroke="#1d1d24" stroke-width="1.18" />
<line x1="60.6" y1="432.4" x2="60.6" y2="487.8" stroke="#1d1d24" stroke-width="1.42" />
<line x1="131.6" y1="432.4" x2="131.6" y2="487.8" stroke="#1d1d24" stroke-width="1.3" />
<line x1="60.6" y1="434.8" x2="131.6" y2="434.8" stroke="#1d1d24" stroke-width="1.06" />
<line x1="55.9" y1="487.8" x2="134.8" y2="487.8" stroke="#1d1d24" stroke-width="1.18" />
<line x1="73.8" y1="435.3" x2="73.8" y2="487.1" stroke="#3c3c47" stroke-width="0.83" />
<line x1="117.4" y1="435.3" x2="117.4" y2="487.1" stroke="#3c3c47" stroke-width="0.83" />
<path d="M77.3 435.3 C76.64 440.25 76.1 443 76.1 446.3 L76.1 476.1 C76.1 479.4 76.64 482.15 77.3 487.1 C77.96 482.15 78.5 479.4 78.5 476.1 L78.5 446.3 C78.5 443 77.96 440.25 77.3 435.3 Z" stroke="#1d1d24" stroke-width="1.12" fill="#8a8d9f" stroke-linejoin="miter"/>
<path d="M83 435.3 C82.34 440.25 81.8 443 81.8 446.3 L81.8 476.1 C81.8 479.4 82.34 482.15 83 487.1 C83.66 482.15 84.2 479.4 84.2 476.1 L84.2 446.3 C84.2 443 83.66 440.25 83 435.3 Z" stroke="#1d1d24" stroke-width="1.12" fill="#8a8d9f" stroke-linejoin="miter"/>
<path d="M109 435.3 C108.34 440.25 107.8 443 107.8 446.3 L107.8 476.1 C107.8 479.4 108.34 482.15 109 487.1 C109.66 482.15 110.2 479.4 110.2 476.1 L110.2 446.3 C110.2 443 109.66 440.25 109 435.3 Z" stroke="#1d1d24" stroke-width="1.12" fill="#8a8d9f" stroke-linejoin="miter"/>
<path d="M115 435.3 C114.34 440.25 113.8 443 113.8 446.3 L113.8 476.1 C113.8 479.4 114.34 482.15 115 487.1 C115.66 482.15 116.2 479.4 116.2 476.1 L116.2 446.3 C116.2 443 115.66 440.25 115 435.3 Z" stroke="#1d1d24" stroke-width="1.12" fill="#8a8d9f" stroke-linejoin="miter"/>
<path d="M64.8 443.5 C64.06 448.45 63.45 451.2 63.45 454.5 L63.45 476.1 C63.45 479.4 64.06 482.15 64.8 487.1 C65.54 482.15 66.15 479.4 66.15 476.1 L66.15 454.5 C66.15 451.2 65.54 448.45 64.8 443.5 Z" stroke="#1d1d24" stroke-width="1.12" fill="#8a8d9f" stroke-linejoin="miter"/>
<path d="M70.8 443.5 C70.06 448.45 69.45 451.2 69.45 454.5 L69.45 476.1 C69.45 479.4 70.06 482.15 70.8 487.1 C71.54 482.15 72.15 479.4 72.15 476.1 L72.15 454.5 C72.15 451.2 71.54 448.45 70.8 443.5 Z" stroke="#1d1d24" stroke-width="1.12" fill="#8a8d9f" stroke-linejoin="miter"/>
<line x1="88.7" y1="450.7" x2="88.7" y2="484.7" stroke="#1d1d24" stroke-width="0.94" />
<line x1="90.5" y1="450.7" x2="90.5" y2="484.7" stroke="#1d1d24" stroke-width="0.94" />
<path d="M88.7 484.7 Q89.6 487.7 90.5 484.7" stroke="#1d1d24" stroke-width="0.94" fill="none" stroke-linejoin="round" />
<line x1="94.9" y1="450.7" x2="94.9" y2="484.7" stroke="#1d1d24" stroke-width="0.94" />
<line x1="96.7" y1="450.7" x2="96.7" y2="484.7" stroke="#1d1d24" stroke-width="0.94" />
<path d="M94.9 484.7 Q95.8 487.7 96.7 484.7" stroke="#1d1d24" stroke-width="0.94" fill="none" stroke-linejoin="round" />
<line x1="101.3" y1="450.7" x2="101.3" y2="484.7" stroke="#1d1d24" stroke-width="0.94" />
<line x1="103.1" y1="450.7" x2="103.1" y2="484.7" stroke="#1d1d24" stroke-width="0.94" />
<path d="M101.3 484.7 Q102.2 487.7 103.1 484.7" stroke="#1d1d24" stroke-width="0.94" fill="none" stroke-linejoin="round" />
<path d="M61.4 465.7 L63.4 463.1 L65.6 463.1" stroke="#1d1d24" stroke-width="1.06" fill="none" stroke-linejoin="round" />
<line x1="63.5" y1="463.1" x2="63.5" y2="487.1" stroke="#3c3c47" stroke-width="0.83" />
<path d="M125.6 462.3 L127.8 462.3 L129.4 464.7 L129.4 487.1" stroke="#1d1d24" stroke-width="1.06" fill="none" stroke-linejoin="round" />
<path d="M79.45 490.3 L79.45 468.4 A1.85 1.85 0 0 1 83.15 468.4 L83.15 490.3" stroke="#1d1d24" stroke-width="1.06" fill="#d2d6e9" stroke-linejoin="round" />
<path d="M94.15 490.3 L94.15 468.4 A1.85 1.85 0 0 1 97.85 468.4 L97.85 490.3" stroke="#1d1d24" stroke-width="1.06" fill="#d2d6e9" stroke-linejoin="round" />
<path d="M109.65 490.3 L109.65 468.4 A1.85 1.85 0 0 1 113.35 468.4 L113.35 490.3" stroke="#1d1d24" stroke-width="1.06" fill="#d2d6e9" stroke-linejoin="round" />
<rect x="59.9" y="434.6" width="12.1" height="2.9" rx="0" stroke="#1d1d24" stroke-width="0.94" fill="#d2d6e9"/>
<rect x="58.7" y="437.5" width="14.5" height="2.3" rx="0" stroke="#1d1d24" stroke-width="0.94" fill="#d2d6e9"/>
<rect x="59.9" y="439.8" width="12.1" height="3.2" rx="0" stroke="#1d1d24" stroke-width="0.94" fill="#d2d6e9"/>
<rect x="119.6" y="433.1" width="9.4" height="2.9" rx="0" stroke="#1d1d24" stroke-width="0.94" fill="#d2d6e9"/>
<rect x="118.4" y="436" width="11.8" height="2.3" rx="0" stroke="#1d1d24" stroke-width="0.94" fill="#d2d6e9"/>
<rect x="119.6" y="438.3" width="9.4" height="3.2" rx="0" stroke="#1d1d24" stroke-width="0.94" fill="#d2d6e9"/>
<line x1="119.6" y1="441.5" x2="119.6" y2="487.1" stroke="#3c3c47" stroke-width="0.83" />
<line x1="121.8" y1="441.5" x2="121.8" y2="487.1" stroke="#3c3c47" stroke-width="0.83" />
<line x1="126.8" y1="441.5" x2="126.8" y2="487.1" stroke="#3c3c47" stroke-width="0.83" />
<line x1="129" y1="441.5" x2="129" y2="487.1" stroke="#3c3c47" stroke-width="0.83" />
<rect x="60.8" y="425" width="2.2" height="9.8" rx="0" stroke="#1d1d24" stroke-width="0.94" fill="#d2d6e9"/>
<rect x="62.9" y="419.7" width="20.2" height="15.1" rx="0" stroke="#1d1d24" stroke-width="1.18" fill="#d2d6e9"/>
<path d="M82.9 421.3 L100 421.3 L103.8 425 L103.8 432.9" stroke="#1d1d24" stroke-width="1.18" fill="#d2d6e9" stroke-linejoin="round" />
<path d="M92.1 432.9 L92.1 429.7 A3.7 3.7 0 0 1 99.5 429.7 L99.5 432.9" stroke="#1d1d24" stroke-width="1.77" fill="none" stroke-linejoin="round" />
<path d="M87.8 440 L89.1 433.5 L90.4 440" stroke="#3c3c47" stroke-width="0.83" fill="#8e909e" stroke-linejoin="round" />
<path d="M94.2 440 L95.5 433.5 L96.8 440" stroke="#3c3c47" stroke-width="0.83" fill="#8e909e" stroke-linejoin="round" />
<path d="M100.5 440 L101.8 433.5 L103.1 440" stroke="#3c3c47" stroke-width="0.83" fill="#8e909e" stroke-linejoin="round" />
<line x1="82.9" y1="432.9" x2="108.2" y2="432.9" stroke="#1d1d24" stroke-width="1.06" />
<rect x="84.7" y="440.1" width="21.9" height="10.6" rx="0" stroke="#1d1d24" stroke-width="1.18" fill="#d2d6e9"/>
<path d="M61.5 487.8 L61.5 498 L129.5 498 L129.5 487.8" stroke="#1d1d24" stroke-width="1.18" fill="none" stroke-linejoin="round" />
<line x1="64.7" y1="490.7" x2="126.3" y2="490.7" stroke="#1d1d24" stroke-width="0.94" />
<path d="M64.7 490.7 Q63.5 490.5 63.5 487.8" stroke="#1d1d24" stroke-width="0.94" fill="none" stroke-linejoin="round" />
<path d="M126.3 490.7 Q127.5 490.5 127.5 487.8" stroke="#1d1d24" stroke-width="0.94" fill="none" stroke-linejoin="round" />
<line x1="24.7" y1="459.9" x2="165.7" y2="459.9" stroke="#5a5c6a" stroke-width="0.6" stroke-dasharray="9 1.5 1.5 1.5"/>
<line x1="69.4" y1="490.7" x2="69.4" y2="498" stroke="#1d1d24" stroke-width="0.94" />
<line x1="72.8" y1="490.7" x2="72.8" y2="498" stroke="#1d1d24" stroke-width="0.94" />
<line x1="75.96" y1="490.7" x2="75.96" y2="498" stroke="#1d1d24" stroke-width="0.94" />
<line x1="84.6" y1="490.7" x2="84.6" y2="498" stroke="#1d1d24" stroke-width="0.94" />
<line x1="88" y1="490.7" x2="88" y2="498" stroke="#1d1d24" stroke-width="0.94" />
<line x1="91.16" y1="490.7" x2="91.16" y2="498" stroke="#1d1d24" stroke-width="0.94" />
<line x1="100" y1="490.7" x2="100" y2="498" stroke="#1d1d24" stroke-width="0.94" />
<line x1="103.4" y1="490.7" x2="103.4" y2="498" stroke="#1d1d24" stroke-width="0.94" />
<line x1="106.56" y1="490.7" x2="106.56" y2="498" stroke="#1d1d24" stroke-width="0.94" />
<line x1="114.9" y1="490.7" x2="114.9" y2="498" stroke="#1d1d24" stroke-width="0.94" />
<line x1="118.3" y1="490.7" x2="118.3" y2="498" stroke="#1d1d24" stroke-width="0.94" />
<line x1="121.46" y1="490.7" x2="121.46" y2="498" stroke="#1d1d24" stroke-width="0.94" />
<line x1="72.8" y1="510.3" x2="118.3" y2="510.3" stroke="#70727f" stroke-width="0.6" />
<line x1="72.8" y1="498" x2="72.8" y2="512.3" stroke="#70727f" stroke-width="0.6" />
<line x1="88" y1="498" x2="88" y2="512.3" stroke="#70727f" stroke-width="0.6" />
<line x1="103.4" y1="498" x2="103.4" y2="512.3" stroke="#70727f" stroke-width="0.6" />
<line x1="118.3" y1="498" x2="118.3" y2="512.3" stroke="#70727f" stroke-width="0.6" />
<path d="M72.8 510.3 L77.6 509.5 L77.6 511.1Z" fill="#3a3a44"/>
<path d="M88 510.3 L83.2 511.1 L83.2 509.5Z" fill="#3a3a44"/>
<path d="M88 510.3 L92.8 509.5 L92.8 511.1Z" fill="#3a3a44"/>
<path d="M103.4 510.3 L98.6 511.1 L98.6 509.5Z" fill="#3a3a44"/>
<path d="M103.4 510.3 L108.2 509.5 L108.2 511.1Z" fill="#3a3a44"/>
<path d="M118.3 510.3 L113.5 511.1 L113.5 509.5Z" fill="#3a3a44"/>
<text x="80.6" y="507.8" font-family="'Liberation Serif', serif" font-size="9.8" font-weight="normal" text-anchor="middle" fill="#25252c" stroke="#25252c" stroke-width="0.22" >B</text>
<text x="96.6" y="507.8" font-family="'Liberation Serif', serif" font-size="9.8" font-weight="normal" text-anchor="middle" fill="#25252c" stroke="#25252c" stroke-width="0.22" >B</text>
<text x="111.2" y="507.8" font-family="'Liberation Serif', serif" font-size="9.8" font-weight="normal" text-anchor="middle" fill="#25252c" stroke="#25252c" stroke-width="0.22" >B</text>
<line x1="61.6" y1="522.6" x2="129.2" y2="522.6" stroke="#70727f" stroke-width="0.6" />
<path d="M61.6 522.6 L66.4 521.8 L66.4 523.4Z" fill="#3a3a44"/>
<path d="M129.2 522.6 L124.4 523.4 L124.4 521.8Z" fill="#3a3a44"/>
<line x1="61.6" y1="498" x2="61.6" y2="524.6" stroke="#70727f" stroke-width="0.6" />
<line x1="129.2" y1="498" x2="129.2" y2="524.6" stroke="#70727f" stroke-width="0.6" />
<text x="96.7" y="520.8" font-family="'Liberation Serif', serif" font-size="9.8" font-weight="normal" text-anchor="middle" fill="#25252c" stroke="#25252c" stroke-width="0.22" >BB</text>
<line x1="249.5" y1="417.3" x2="249.5" y2="501.3" stroke="#5a5c6a" stroke-width="0.6" stroke-dasharray="9 1.5 1.5 1.5"/>
<line x1="182" y1="460.3" x2="288" y2="460.3" stroke="#5a5c6a" stroke-width="0.6" stroke-dasharray="9 1.5 1.5 1.5"/>
<line x1="219.1" y1="467.3" x2="204" y2="491.3" stroke="#1d1d24" stroke-width="1.18" />
<path d="M227.9 491.3 L204 491.3 L204 499.4 L227.9 499.4" stroke="#1d1d24" stroke-width="1.18" fill="none" stroke-linejoin="round" />
<line x1="209.1" y1="491.3" x2="209.1" y2="499.4" stroke="#1d1d24" stroke-width="1.06" />
<line x1="213.2" y1="491.3" x2="213.2" y2="499.4" stroke="#1d1d24" stroke-width="1.06" />
<line x1="217.2" y1="491.3" x2="217.2" y2="499.4" stroke="#1d1d24" stroke-width="1.06" />
<line x1="227.9" y1="491.3" x2="232.2" y2="486.3" stroke="#1d1d24" stroke-width="1.06" />
<path d="M227.9 499.4 L232.2 496.2 L249.5 491.9" stroke="#1d1d24" stroke-width="1.06" fill="none" stroke-linejoin="round" />
<line x1="279.9" y1="467.3" x2="295" y2="491.3" stroke="#1d1d24" stroke-width="1.18" />
<path d="M271.1 491.3 L295 491.3 L295 499.4 L271.1 499.4" stroke="#1d1d24" stroke-width="1.18" fill="none" stroke-linejoin="round" />
<line x1="289.9" y1="491.3" x2="289.9" y2="499.4" stroke="#1d1d24" stroke-width="1.06" />
<line x1="285.8" y1="491.3" x2="285.8" y2="499.4" stroke="#1d1d24" stroke-width="1.06" />
<line x1="281.8" y1="491.3" x2="281.8" y2="499.4" stroke="#1d1d24" stroke-width="1.06" />
<line x1="271.1" y1="491.3" x2="266.8" y2="486.3" stroke="#1d1d24" stroke-width="1.06" />
<path d="M271.1 499.4 L266.8 496.2 L249.5 491.9" stroke="#1d1d24" stroke-width="1.06" fill="none" stroke-linejoin="round" />
<circle cx="249.5" cy="460.3" r="31.2" stroke="#1d1d24" stroke-width="1.3" fill="none"/>
<circle cx="249.5" cy="460.3" r="16.6" stroke="#1d1d24" stroke-width="1.18" fill="none"/>
<circle cx="249.5" cy="460.3" r="14.1" stroke="#1d1d24" stroke-width="1.18" fill="none"/>
<circle cx="249.5" cy="460.3" r="15.35" stroke="#8a8c9a" stroke-width="0.5" fill="none"/>
<rect x="225.8" y="436.6" width="2.8" height="2.8" rx="0.6" fill="#15151a"/>
<rect x="225.8" y="481.2" width="2.8" height="2.8" rx="0.6" fill="#15151a"/>
<rect x="270.4" y="436.6" width="2.8" height="2.8" rx="0.6" fill="#15151a"/>
<rect x="270.4" y="481.2" width="2.8" height="2.8" rx="0.6" fill="#15151a"/>
<path d="M239.9 430.91 L239.9 420.8 L259.2 420.8 L259.2 430.91" stroke="#1d1d24" stroke-width="1.18" fill="none" stroke-linejoin="round" />
<rect x="239.35" y="419.65" width="2.3" height="2.3" fill="#15151a" transform="rotate(45 240.5 420.8)"/>
<rect x="256.75" y="419.65" width="2.3" height="2.3" fill="#15151a" transform="rotate(45 257.9 420.8)"/>
<path d="M239.9 422.4 L235.8 423.2 L234.6 424.8 L234.6 431.4 L239.9 430.8" stroke="#1d1d24" stroke-width="0.94" fill="#d2d6e9" stroke-linejoin="round" />
<line x1="236.1" y1="423.6" x2="236.1" y2="431.1" stroke="#3c3c47" stroke-width="0.71" />
<line x1="237.6" y1="423.6" x2="237.6" y2="431.1" stroke="#3c3c47" stroke-width="0.71" />
<line x1="238.9" y1="423.6" x2="238.9" y2="431.1" stroke="#3c3c47" stroke-width="0.71" />
<rect x="223.5" y="425.4" width="11.1" height="7.3" rx="0" stroke="#1d1d24" stroke-width="0.94" fill="#d2d6e9"/>
<path d="M223.5 426.4 L206.3 426.4" stroke="#1d1d24" stroke-width="0.94" fill="none" stroke-linejoin="round" />
<path d="M223.5 431.9 L206.3 431.9" stroke="#1d1d24" stroke-width="0.94" fill="none" stroke-linejoin="round" />
<rect x="207" y="429" width="16.5" height="2.9" fill="#9c9eab"/>
<line x1="206.3" y1="429" x2="223.5" y2="429" stroke="#3c3c47" stroke-width="0.71" />
<path d="M206.3 426.4 L205.3 428 L206.9 429.8 L205.9 431.9" stroke="#1d1d24" stroke-width="0.83" fill="none" stroke-linejoin="round" />
<line x1="259.2" y1="420.8" x2="309.3" y2="420.8" stroke="#70727f" stroke-width="0.6" />
<line x1="295" y1="499.4" x2="309.3" y2="499.4" stroke="#70727f" stroke-width="0.6" />
<line x1="306.8" y1="420.8" x2="306.8" y2="499.4" stroke="#70727f" stroke-width="0.6" />
<path d="M306.8 420.8 L307.6 425.6 L306 425.6Z" fill="#3a3a44"/>
<path d="M306.8 499.4 L306 494.6 L307.6 494.6Z" fill="#3a3a44"/>
<text x="302.7" y="459.6" font-family="'Liberation Serif', serif" font-size="9.8" font-weight="normal" text-anchor="middle" fill="#25252c" stroke="#25252c" stroke-width="0.22" transform="rotate(-90 302.7 459.6)" >HD</text>
<line x1="184.3" y1="460.3" x2="184.3" y2="499.4" stroke="#70727f" stroke-width="0.6" />
<path d="M184.3 460.3 L185.1 465.1 L183.5 465.1Z" fill="#3a3a44"/>
<path d="M184.3 499.4 L183.5 494.6 L185.1 494.6Z" fill="#3a3a44"/>
<text x="181" y="479.6" font-family="'Liberation Serif', serif" font-size="9.8" font-weight="normal" text-anchor="middle" fill="#25252c" stroke="#25252c" stroke-width="0.22" transform="rotate(-90 181 479.6)" >H</text>
<line x1="182" y1="499.4" x2="204" y2="499.4" stroke="#70727f" stroke-width="0.6" />
<line x1="194.8" y1="491.3" x2="204" y2="491.3" stroke="#70727f" stroke-width="0.6" />
<line x1="196.6" y1="485" x2="196.6" y2="505.7" stroke="#70727f" stroke-width="0.6" />
<path d="M196.6 491.3 L195.8 486.5 L197.4 486.5Z" fill="#3a3a44"/>
<path d="M196.6 499.4 L197.4 504.2 L195.8 504.2Z" fill="#3a3a44"/>
<text x="193.8" y="493.2" font-family="'Liberation Serif', serif" font-size="9.8" font-weight="normal" text-anchor="middle" fill="#25252c" stroke="#25252c" stroke-width="0.22" transform="rotate(-90 193.8 493.2)" >HA</text>
<text x="188.1" y="515.6" font-family="'Liberation Serif', serif" font-size="8.9" font-weight="normal" text-anchor="middle" fill="#25252c" stroke="#25252c" stroke-width="0.22" xml:space="preserve" word-spacing="-0.3">8- &#981; K</text>
<path d="M178.7 518.8 L197.2 518.8 L213.2 499.4" stroke="#70727f" stroke-width="0.6" fill="none" stroke-linejoin="round" />
<line x1="213.2" y1="515" x2="285.8" y2="515" stroke="#70727f" stroke-width="0.6" />
<path d="M213.2 515 L218 514.2 L218 515.8Z" fill="#3a3a44"/>
<path d="M285.8 515 L281 515.8 L281 514.2Z" fill="#3a3a44"/>
<line x1="213.2" y1="499.4" x2="213.2" y2="517" stroke="#70727f" stroke-width="0.6" />
<line x1="285.8" y1="499.4" x2="285.8" y2="517" stroke="#70727f" stroke-width="0.6" />
<text x="250.7" y="511.8" font-family="'Liberation Serif', serif" font-size="9.8" font-weight="normal" text-anchor="middle" fill="#25252c" stroke="#25252c" stroke-width="0.22" >A</text>
<line x1="204" y1="530.6" x2="295" y2="530.6" stroke="#70727f" stroke-width="0.6" />
<path d="M204 530.6 L208.8 529.8 L208.8 531.4Z" fill="#3a3a44"/>
<path d="M295 530.6 L290.2 531.4 L290.2 529.8Z" fill="#3a3a44"/>
<line x1="204" y1="499.4" x2="204" y2="532.6" stroke="#70727f" stroke-width="0.6" />
<line x1="295" y1="499.4" x2="295" y2="532.6" stroke="#70727f" stroke-width="0.6" />
<text x="252.7" y="527.9" font-family="'Liberation Serif', serif" font-size="9.8" font-weight="normal" text-anchor="middle" fill="#25252c" stroke="#25252c" stroke-width="0.22" >AB</text>
<line x1="371.5" y1="410.8" x2="509.8" y2="410.8" stroke="#70727f" stroke-width="0.6" />
<path d="M371.5 410.8 L376.3 410 L376.3 411.6Z" fill="#3a3a44"/>
<path d="M509.8 410.8 L505 411.6 L505 410Z" fill="#3a3a44"/>
<text x="441.4" y="406.5" font-family="'Liberation Serif', serif" font-size="9.8" font-weight="normal" text-anchor="middle" fill="#25252c" stroke="#25252c" stroke-width="0.22" >L</text>
<line x1="371.5" y1="408.8" x2="371.5" y2="446" stroke="#70727f" stroke-width="0.6" />
<line x1="509.8" y1="408.8" x2="509.8" y2="446" stroke="#70727f" stroke-width="0.6" />
<path d="M390.7 425.4 L376.8 425.4 Q373.2 425.4 373.2 429 L373.2 494.4 Q373.2 498 376.8 498 L390.7 498" stroke="#1d1d24" stroke-width="1.18" fill="#d2d6e9" stroke-linejoin="round" />
<line x1="390.7" y1="425.4" x2="390.7" y2="498" stroke="#1d1d24" stroke-width="2.01" />
<rect x="385.7" y="423.9" width="5" height="1.7" fill="#1a1a20"/>
<rect x="388.2" y="497.8" width="2.5" height="1.2" fill="#1a1a20"/>
<rect x="371.2" y="445.2" width="2" height="33" fill="#8e909e" stroke="#1d1d24" stroke-width="0.7"/>
<path d="M489.5 425.4 L503.4 425.4 Q507 425.4 507 429 L507 494.4 Q507 498 503.4 498 L489.5 498" stroke="#1d1d24" stroke-width="1.18" fill="#d2d6e9" stroke-linejoin="round" />
<line x1="489.5" y1="425.4" x2="489.5" y2="498" stroke="#1d1d24" stroke-width="2.01" />
<rect x="489.5" y="423.9" width="5" height="1.7" fill="#1a1a20"/>
<rect x="489.5" y="497.8" width="2.5" height="1.2" fill="#1a1a20"/>
<rect x="507" y="445.2" width="2.7" height="33" fill="#8e909e" stroke="#1d1d24" stroke-width="0.7"/>
<line x1="395.7" y1="433.6" x2="484.5" y2="433.6" stroke="#1d1d24" stroke-width="1.18" />
<line x1="391.1" y1="424.5" x2="395.7" y2="433.6" stroke="#1d1d24" stroke-width="1.18" />
<line x1="394.6" y1="431.6" x2="394.6" y2="492" stroke="#1d1d24" stroke-width="0.94" />
<line x1="396.2" y1="433.6" x2="396.2" y2="492.6" stroke="#1d1d24" stroke-width="1.06" />
<line x1="408.6" y1="433.6" x2="408.6" y2="492.6" stroke="#1d1d24" stroke-width="1.06" />
<line x1="396.2" y1="437.7" x2="408.6" y2="437.7" stroke="#1d1d24" stroke-width="1.0" />
<line x1="396.2" y1="440.8" x2="408.6" y2="440.8" stroke="#1d1d24" stroke-width="1.0" />
<line x1="396.2" y1="444.5" x2="408.6" y2="444.5" stroke="#1d1d24" stroke-width="1.0" />
<line x1="396.2" y1="447.2" x2="408.6" y2="447.2" stroke="#1d1d24" stroke-width="1.0" />
<line x1="396.2" y1="451.2" x2="408.6" y2="451.2" stroke="#1d1d24" stroke-width="1.0" />
<line x1="396.2" y1="454.9" x2="408.6" y2="454.9" stroke="#1d1d24" stroke-width="1.0" />
<line x1="400.6" y1="467.2" x2="408.6" y2="467.2" stroke="#1d1d24" stroke-width="1.0" />
<line x1="400.6" y1="470.3" x2="408.6" y2="470.3" stroke="#1d1d24" stroke-width="1.0" />
<line x1="400.6" y1="475.2" x2="408.6" y2="475.2" stroke="#1d1d24" stroke-width="1.0" />
<line x1="400.6" y1="478.3" x2="408.6" y2="478.3" stroke="#1d1d24" stroke-width="1.0" />
<path d="M400.6 492.6 L400.6 464 Q400.6 461.2 403.2 461" stroke="#1d1d24" stroke-width="1.06" fill="none" stroke-linejoin="round" />
<line x1="405.6" y1="480" x2="405.6" y2="492.6" stroke="#3c3c47" stroke-width="0.83" />
<line x1="489.1" y1="424.5" x2="484.5" y2="433.6" stroke="#1d1d24" stroke-width="1.18" />
<line x1="485.6" y1="431.6" x2="485.6" y2="492" stroke="#1d1d24" stroke-width="0.94" />
<line x1="484" y1="433.6" x2="484" y2="492.6" stroke="#1d1d24" stroke-width="1.06" />
<line x1="471.6" y1="433.6" x2="471.6" y2="492.6" stroke="#1d1d24" stroke-width="1.06" />
<line x1="484" y1="437.7" x2="471.6" y2="437.7" stroke="#1d1d24" stroke-width="1.0" />
<line x1="484" y1="440.8" x2="471.6" y2="440.8" stroke="#1d1d24" stroke-width="1.0" />
<line x1="484" y1="444.5" x2="471.6" y2="444.5" stroke="#1d1d24" stroke-width="1.0" />
<line x1="484" y1="447.2" x2="471.6" y2="447.2" stroke="#1d1d24" stroke-width="1.0" />
<line x1="484" y1="451.2" x2="471.6" y2="451.2" stroke="#1d1d24" stroke-width="1.0" />
<line x1="484" y1="454.9" x2="471.6" y2="454.9" stroke="#1d1d24" stroke-width="1.0" />
<line x1="479.6" y1="467.2" x2="471.6" y2="467.2" stroke="#1d1d24" stroke-width="1.0" />
<line x1="479.6" y1="470.3" x2="471.6" y2="470.3" stroke="#1d1d24" stroke-width="1.0" />
<line x1="479.6" y1="475.2" x2="471.6" y2="475.2" stroke="#1d1d24" stroke-width="1.0" />
<line x1="479.6" y1="478.3" x2="471.6" y2="478.3" stroke="#1d1d24" stroke-width="1.0" />
<path d="M479.6 492.6 L479.6 464 Q479.6 461.2 477 461" stroke="#1d1d24" stroke-width="1.06" fill="none" stroke-linejoin="round" />
<line x1="474.6" y1="480" x2="474.6" y2="492.6" stroke="#3c3c47" stroke-width="0.83" />
<line x1="408.6" y1="434.6" x2="471.6" y2="434.6" stroke="#1d1d24" stroke-width="0.94" />
<path d="M415.4 434.8 C414.85 439.75 414.4 442.5 414.4 445.8 L414.4 476.2 C414.4 479.5 414.85 482.25 415.4 487.2 C415.95 482.25 416.4 479.5 416.4 476.2 L416.4 445.8 C416.4 442.5 415.95 439.75 415.4 434.8 Z" stroke="#1d1d24" stroke-width="0.89" fill="#8a8d9f" stroke-linejoin="miter"/>
<path d="M421.6 434.8 C421.05 439.75 420.6 442.5 420.6 445.8 L420.6 476.2 C420.6 479.5 421.05 482.25 421.6 487.2 C422.15 482.25 422.6 479.5 422.6 476.2 L422.6 445.8 C422.6 442.5 422.15 439.75 421.6 434.8 Z" stroke="#1d1d24" stroke-width="0.89" fill="#8a8d9f" stroke-linejoin="miter"/>
<path d="M427.8 434.8 C427.25 439.75 426.8 442.5 426.8 445.8 L426.8 476.2 C426.8 479.5 427.25 482.25 427.8 487.2 C428.35 482.25 428.8 479.5 428.8 476.2 L428.8 445.8 C428.8 442.5 428.35 439.75 427.8 434.8 Z" stroke="#1d1d24" stroke-width="0.89" fill="#8a8d9f" stroke-linejoin="miter"/>
<path d="M434 434.8 C433.45 439.75 433 442.5 433 445.8 L433 476.2 C433 479.5 433.45 482.25 434 487.2 C434.55 482.25 435 479.5 435 476.2 L435 445.8 C435 442.5 434.55 439.75 434 434.8 Z" stroke="#1d1d24" stroke-width="0.89" fill="#8a8d9f" stroke-linejoin="miter"/>
<path d="M446.4 434.8 C445.85 439.75 445.4 442.5 445.4 445.8 L445.4 476.2 C445.4 479.5 445.85 482.25 446.4 487.2 C446.95 482.25 447.4 479.5 447.4 476.2 L447.4 445.8 C447.4 442.5 446.95 439.75 446.4 434.8 Z" stroke="#1d1d24" stroke-width="0.89" fill="#8a8d9f" stroke-linejoin="miter"/>
<path d="M452.6 434.8 C452.05 439.75 451.6 442.5 451.6 445.8 L451.6 476.2 C451.6 479.5 452.05 482.25 452.6 487.2 C453.15 482.25 453.6 479.5 453.6 476.2 L453.6 445.8 C453.6 442.5 453.15 439.75 452.6 434.8 Z" stroke="#1d1d24" stroke-width="0.89" fill="#8a8d9f" stroke-linejoin="miter"/>
<path d="M458.8 434.8 C458.25 439.75 457.8 442.5 457.8 445.8 L457.8 476.2 C457.8 479.5 458.25 482.25 458.8 487.2 C459.35 482.25 459.8 479.5 459.8 476.2 L459.8 445.8 C459.8 442.5 459.35 439.75 458.8 434.8 Z" stroke="#1d1d24" stroke-width="0.89" fill="#8a8d9f" stroke-linejoin="miter"/>
<path d="M465 434.8 C464.45 439.75 464 442.5 464 445.8 L464 476.2 C464 479.5 464.45 482.25 465 487.2 C465.55 482.25 466 479.5 466 476.2 L466 445.8 C466 442.5 465.55 439.75 465 434.8 Z" stroke="#1d1d24" stroke-width="0.89" fill="#8a8d9f" stroke-linejoin="miter"/>
<line x1="440.2" y1="425" x2="440.2" y2="503" stroke="#1d1d24" stroke-width="0.89" />
<path d="M440.2 453.2 C439.7 458.15 439.3 460.9 439.3 464.2 L439.3 476.2 C439.3 479.5 439.7 482.25 440.2 487.2 C440.69 482.25 441.1 479.5 441.1 476.2 L441.1 464.2 C441.1 460.9 440.69 458.15 440.2 453.2 Z" stroke="#1d1d24" stroke-width="0.89" fill="#8a8d9f" stroke-linejoin="miter"/>
<line x1="408.6" y1="487.9" x2="471.6" y2="487.9" stroke="#1d1d24" stroke-width="1.18" />
<line x1="408.6" y1="489.1" x2="471.6" y2="489.1" stroke="#3c3c47" stroke-width="0.83" />
<rect x="408.6" y="421.2" width="19.5" height="12.8" rx="0" stroke="#1d1d24" stroke-width="1.18" fill="#d2d6e9"/>
<path d="M428.1 423.4 L444.8 423.4 L448.6 427.1 L448.6 434.2" stroke="#1d1d24" stroke-width="1.18" fill="#d2d6e9" stroke-linejoin="round" />
<path d="M436 434.2 L436 431 A4.4 4.4 0 0 1 444.8 431 L444.8 434.2" stroke="#1d1d24" stroke-width="1.77" fill="none" stroke-linejoin="round" />
<line x1="428.1" y1="434.2" x2="452" y2="434.2" stroke="#1d1d24" stroke-width="1.06" />
<path d="M432.6 441.4 L433.8 435 L435 441.4" stroke="#3c3c47" stroke-width="0.83" fill="#8e909e" stroke-linejoin="round" />
<path d="M439 441.4 L440.2 435 L441.4 441.4" stroke="#3c3c47" stroke-width="0.83" fill="#8e909e" stroke-linejoin="round" />
<path d="M445.4 441.4 L446.6 435 L447.8 441.4" stroke="#3c3c47" stroke-width="0.83" fill="#8e909e" stroke-linejoin="round" />
<rect x="429" y="441.5" width="21.8" height="11.7" rx="0" stroke="#1d1d24" stroke-width="1.18" fill="#d2d6e9"/>
<line x1="440.2" y1="441.5" x2="440.2" y2="453.2" stroke="#3c3c47" stroke-width="0.71" />
<path d="M378.6 500.2 L378.6 497 Q378.6 492.6 382.8 492.6 L412.9 492.6 Q417.1 492.6 417.1 497 L417.1 500.2 Z" stroke="#1d1d24" stroke-width="1.18" fill="#d2d6e9" stroke-linejoin="round" />
<line x1="383.4" y1="492.8" x2="383.4" y2="500.2" stroke="#1d1d24" stroke-width="0.94" />
<line x1="387.1" y1="492.8" x2="387.1" y2="500.2" stroke="#1d1d24" stroke-width="0.94" />
<line x1="391.4" y1="492.8" x2="391.4" y2="500.2" stroke="#1d1d24" stroke-width="0.94" />
<line x1="405.5" y1="492.8" x2="405.5" y2="500.2" stroke="#1d1d24" stroke-width="0.94" />
<line x1="408.6" y1="492.8" x2="408.6" y2="500.2" stroke="#1d1d24" stroke-width="0.94" />
<line x1="412.3" y1="492.8" x2="412.3" y2="500.2" stroke="#1d1d24" stroke-width="0.94" />
<path d="M501.6 500.2 L501.6 497 Q501.6 492.6 497.4 492.6 L467.3 492.6 Q463.1 492.6 463.1 497 L463.1 500.2 Z" stroke="#1d1d24" stroke-width="1.18" fill="#d2d6e9" stroke-linejoin="round" />
<line x1="496.8" y1="492.8" x2="496.8" y2="500.2" stroke="#1d1d24" stroke-width="0.94" />
<line x1="493.1" y1="492.8" x2="493.1" y2="500.2" stroke="#1d1d24" stroke-width="0.94" />
<line x1="488.8" y1="492.8" x2="488.8" y2="500.2" stroke="#1d1d24" stroke-width="0.94" />
<line x1="474.7" y1="492.8" x2="474.7" y2="500.2" stroke="#1d1d24" stroke-width="0.94" />
<line x1="471.6" y1="492.8" x2="471.6" y2="500.2" stroke="#1d1d24" stroke-width="0.94" />
<line x1="467.9" y1="492.8" x2="467.9" y2="500.2" stroke="#1d1d24" stroke-width="0.94" />
<path d="M373.2 490 Q373.4 497.6 379.2 498" stroke="#1d1d24" stroke-width="1.18" fill="none" stroke-linejoin="round" />
<path d="M507.0 490 Q506.8 497.6 501.2 498" stroke="#1d1d24" stroke-width="1.18" fill="none" stroke-linejoin="round" />
<line x1="364.5" y1="460.2" x2="517" y2="460.2" stroke="#5a5c6a" stroke-width="0.6" stroke-dasharray="9 1.5 1.5 1.5"/>
<line x1="387.1" y1="516.3" x2="492.8" y2="516.3" stroke="#70727f" stroke-width="0.6" />
<line x1="387.1" y1="500.2" x2="387.1" y2="518.3" stroke="#70727f" stroke-width="0.6" />
<line x1="408.6" y1="500.2" x2="408.6" y2="518.3" stroke="#70727f" stroke-width="0.6" />
<line x1="471.6" y1="500.2" x2="471.6" y2="518.3" stroke="#70727f" stroke-width="0.6" />
<line x1="492.8" y1="500.2" x2="492.8" y2="518.3" stroke="#70727f" stroke-width="0.6" />
<path d="M387.1 516.3 L391.9 515.5 L391.9 517.1Z" fill="#3a3a44"/>
<path d="M408.6 516.3 L403.8 517.1 L403.8 515.5Z" fill="#3a3a44"/>
<path d="M408.6 516.3 L413.4 515.5 L413.4 517.1Z" fill="#3a3a44"/>
<path d="M471.6 516.3 L466.8 517.1 L466.8 515.5Z" fill="#3a3a44"/>
<path d="M471.6 516.3 L476.4 515.5 L476.4 517.1Z" fill="#3a3a44"/>
<path d="M492.8 516.3 L488 517.1 L488 515.5Z" fill="#3a3a44"/>
<text x="398.8" y="511.8" font-family="'Liberation Serif', serif" font-size="9.8" font-weight="normal" text-anchor="middle" fill="#25252c" stroke="#25252c" stroke-width="0.22" >CB</text>
<text x="440.5" y="511.8" font-family="'Liberation Serif', serif" font-size="9.8" font-weight="normal" text-anchor="middle" fill="#25252c" stroke="#25252c" stroke-width="0.22" >B</text>
<text x="484.5" y="511.8" font-family="'Liberation Serif', serif" font-size="9.8" font-weight="normal" text-anchor="middle" fill="#25252c" stroke="#25252c" stroke-width="0.22" >CB</text>
<line x1="378.9" y1="528.8" x2="502.6" y2="528.8" stroke="#70727f" stroke-width="0.6" />
<path d="M378.9 528.8 L383.7 528 L383.7 529.6Z" fill="#3a3a44"/>
<path d="M502.6 528.8 L497.8 529.6 L497.8 528Z" fill="#3a3a44"/>
<line x1="378.9" y1="500.2" x2="378.9" y2="530.8" stroke="#70727f" stroke-width="0.6" />
<line x1="502.6" y1="500.2" x2="502.6" y2="530.8" stroke="#70727f" stroke-width="0.6" />
<text x="442.2" y="525.6" font-family="'Liberation Serif', serif" font-size="9.8" font-weight="normal" text-anchor="middle" fill="#25252c" stroke="#25252c" stroke-width="0.22" >BB</text>
<line x1="612.2" y1="417.3" x2="612.2" y2="501.3" stroke="#5a5c6a" stroke-width="0.6" stroke-dasharray="9 1.5 1.5 1.5"/>
<line x1="544.7" y1="460.3" x2="650.7" y2="460.3" stroke="#5a5c6a" stroke-width="0.6" stroke-dasharray="9 1.5 1.5 1.5"/>
<line x1="581.8" y1="467.3" x2="566.7" y2="491.3" stroke="#1d1d24" stroke-width="1.18" />
<path d="M590.6 491.3 L566.7 491.3 L566.7 499.4 L590.6 499.4" stroke="#1d1d24" stroke-width="1.18" fill="none" stroke-linejoin="round" />
<line x1="571.8" y1="491.3" x2="571.8" y2="499.4" stroke="#1d1d24" stroke-width="1.06" />
<line x1="575.9" y1="491.3" x2="575.9" y2="499.4" stroke="#1d1d24" stroke-width="1.06" />
<line x1="579.9" y1="491.3" x2="579.9" y2="499.4" stroke="#1d1d24" stroke-width="1.06" />
<line x1="590.6" y1="491.3" x2="594.9" y2="486.3" stroke="#1d1d24" stroke-width="1.06" />
<path d="M590.6 499.4 L594.9 496.2 L612.2 491.9" stroke="#1d1d24" stroke-width="1.06" fill="none" stroke-linejoin="round" />
<line x1="642.6" y1="467.3" x2="657.7" y2="491.3" stroke="#1d1d24" stroke-width="1.18" />
<path d="M633.8 491.3 L657.7 491.3 L657.7 499.4 L633.8 499.4" stroke="#1d1d24" stroke-width="1.18" fill="none" stroke-linejoin="round" />
<line x1="652.6" y1="491.3" x2="652.6" y2="499.4" stroke="#1d1d24" stroke-width="1.06" />
<line x1="648.5" y1="491.3" x2="648.5" y2="499.4" stroke="#1d1d24" stroke-width="1.06" />
<line x1="644.5" y1="491.3" x2="644.5" y2="499.4" stroke="#1d1d24" stroke-width="1.06" />
<line x1="633.8" y1="491.3" x2="629.5" y2="486.3" stroke="#1d1d24" stroke-width="1.06" />
<path d="M633.8 499.4 L629.5 496.2 L612.2 491.9" stroke="#1d1d24" stroke-width="1.06" fill="none" stroke-linejoin="round" />
<circle cx="612.2" cy="460.3" r="31.2" stroke="#1d1d24" stroke-width="1.3" fill="none"/>
<circle cx="612.2" cy="460.3" r="16.6" stroke="#1d1d24" stroke-width="1.18" fill="none"/>
<circle cx="612.2" cy="460.3" r="14.1" stroke="#1d1d24" stroke-width="1.18" fill="none"/>
<circle cx="612.2" cy="460.3" r="15.35" stroke="#8a8c9a" stroke-width="0.5" fill="none"/>
<rect x="588.5" y="436.6" width="2.8" height="2.8" rx="0.6" fill="#15151a"/>
<rect x="588.5" y="481.2" width="2.8" height="2.8" rx="0.6" fill="#15151a"/>
<rect x="633.1" y="436.6" width="2.8" height="2.8" rx="0.6" fill="#15151a"/>
<rect x="633.1" y="481.2" width="2.8" height="2.8" rx="0.6" fill="#15151a"/>
<path d="M602.6 430.91 L602.6 420.8 L621.9 420.8 L621.9 430.91" stroke="#1d1d24" stroke-width="1.18" fill="none" stroke-linejoin="round" />
<rect x="602.05" y="419.65" width="2.3" height="2.3" fill="#15151a" transform="rotate(45 603.2 420.8)"/>
<rect x="619.45" y="419.65" width="2.3" height="2.3" fill="#15151a" transform="rotate(45 620.6 420.8)"/>
<path d="M602.6 422.4 L598.5 423.2 L597.3 424.8 L597.3 431.4 L602.6 430.8" stroke="#1d1d24" stroke-width="0.94" fill="#d2d6e9" stroke-linejoin="round" />
<line x1="598.8" y1="423.6" x2="598.8" y2="431.1" stroke="#3c3c47" stroke-width="0.71" />
<line x1="600.3" y1="423.6" x2="600.3" y2="431.1" stroke="#3c3c47" stroke-width="0.71" />
<line x1="601.6" y1="423.6" x2="601.6" y2="431.1" stroke="#3c3c47" stroke-width="0.71" />
<rect x="586.2" y="425.4" width="11.1" height="7.3" rx="0" stroke="#1d1d24" stroke-width="0.94" fill="#d2d6e9"/>
<path d="M586.2 426.4 L569 426.4" stroke="#1d1d24" stroke-width="0.94" fill="none" stroke-linejoin="round" />
<path d="M586.2 431.9 L569 431.9" stroke="#1d1d24" stroke-width="0.94" fill="none" stroke-linejoin="round" />
<rect x="569.7" y="429" width="16.5" height="2.9" fill="#9c9eab"/>
<line x1="569" y1="429" x2="586.2" y2="429" stroke="#3c3c47" stroke-width="0.71" />
<path d="M569 426.4 L568 428 L569.6 429.8 L568.6 431.9" stroke="#1d1d24" stroke-width="0.83" fill="none" stroke-linejoin="round" />
<line x1="621.9" y1="420.8" x2="672" y2="420.8" stroke="#70727f" stroke-width="0.6" />
<line x1="657.7" y1="499.4" x2="672" y2="499.4" stroke="#70727f" stroke-width="0.6" />
<line x1="669.5" y1="420.8" x2="669.5" y2="499.4" stroke="#70727f" stroke-width="0.6" />
<path d="M669.5 420.8 L670.3 425.6 L668.7 425.6Z" fill="#3a3a44"/>
<path d="M669.5 499.4 L668.7 494.6 L670.3 494.6Z" fill="#3a3a44"/>
<text x="665.4" y="459.6" font-family="'Liberation Serif', serif" font-size="9.8" font-weight="normal" text-anchor="middle" fill="#25252c" stroke="#25252c" stroke-width="0.22" transform="rotate(-90 665.4 459.6)" >HD</text>
<line x1="547.8" y1="460.3" x2="547.8" y2="499.4" stroke="#70727f" stroke-width="0.6" />
<path d="M547.8 460.3 L548.6 465.1 L547 465.1Z" fill="#3a3a44"/>
<path d="M547.8 499.4 L547 494.6 L548.6 494.6Z" fill="#3a3a44"/>
<text x="544.5" y="479.4" font-family="'Liberation Serif', serif" font-size="9.8" font-weight="normal" text-anchor="middle" fill="#25252c" stroke="#25252c" stroke-width="0.22" transform="rotate(-90 544.5 479.4)" >H</text>
<line x1="544.7" y1="499.4" x2="566.7" y2="499.4" stroke="#70727f" stroke-width="0.6" />
<line x1="558.3" y1="491.3" x2="566.7" y2="491.3" stroke="#70727f" stroke-width="0.6" />
<line x1="560.1" y1="485" x2="560.1" y2="505.7" stroke="#70727f" stroke-width="0.6" />
<path d="M560.1 491.3 L559.3 486.5 L560.9 486.5Z" fill="#3a3a44"/>
<path d="M560.1 499.4 L560.9 504.2 L559.3 504.2Z" fill="#3a3a44"/>
<text x="557.3" y="492.5" font-family="'Liberation Serif', serif" font-size="9.8" font-weight="normal" text-anchor="middle" fill="#25252c" stroke="#25252c" stroke-width="0.22" transform="rotate(-90 557.3 492.5)" >HA</text>
<text x="552.4" y="515.2" font-family="'Liberation Serif', serif" font-size="8.9" font-weight="normal" text-anchor="middle" fill="#25252c" stroke="#25252c" stroke-width="0.22" xml:space="preserve" word-spacing="-0.3">8- &#981; K</text>
<path d="M541.4 518.8 L559.9 518.8 L575.9 499.4" stroke="#70727f" stroke-width="0.6" fill="none" stroke-linejoin="round" />
<line x1="575.9" y1="515" x2="648.5" y2="515" stroke="#70727f" stroke-width="0.6" />
<path d="M575.9 515 L580.7 514.2 L580.7 515.8Z" fill="#3a3a44"/>
<path d="M648.5 515 L643.7 515.8 L643.7 514.2Z" fill="#3a3a44"/>
<line x1="575.9" y1="499.4" x2="575.9" y2="517" stroke="#70727f" stroke-width="0.6" />
<line x1="648.5" y1="499.4" x2="648.5" y2="517" stroke="#70727f" stroke-width="0.6" />
<text x="613.4" y="511.8" font-family="'Liberation Serif', serif" font-size="9.8" font-weight="normal" text-anchor="middle" fill="#25252c" stroke="#25252c" stroke-width="0.22" >A</text>
<line x1="566.7" y1="530.6" x2="657.7" y2="530.6" stroke="#70727f" stroke-width="0.6" />
<path d="M566.7 530.6 L571.5 529.8 L571.5 531.4Z" fill="#3a3a44"/>
<path d="M657.7 530.6 L652.9 531.4 L652.9 529.8Z" fill="#3a3a44"/>
<line x1="566.7" y1="499.4" x2="566.7" y2="532.6" stroke="#70727f" stroke-width="0.6" />
<line x1="657.7" y1="499.4" x2="657.7" y2="532.6" stroke="#70727f" stroke-width="0.6" />
<text x="615.4" y="528.1" font-family="'Liberation Serif', serif" font-size="9.8" font-weight="normal" text-anchor="middle" fill="#25252c" stroke="#25252c" stroke-width="0.22" >AB</text>
<text x="155" y="199.7" font-family="'Liberation Sans', 'Noto Sans CJK SC', sans-serif" font-size="15" fill="#1c1c22">图</text>
<text x="172" y="199.7" font-family="'Liberation Sans', 'Noto Sans CJK SC', sans-serif" font-size="15" fill="#1c1c22">一</text>
<text x="508.4" y="201.4" font-family="'Liberation Sans', 'Noto Sans CJK SC', sans-serif" font-size="15" fill="#1c1c22">图</text>
<text x="525.1" y="201.4" font-family="'Liberation Sans', 'Noto Sans CJK SC', sans-serif" font-size="15" fill="#1c1c22">二</text>
<text x="155.2" y="377.4" font-family="'Liberation Sans', 'Noto Sans CJK SC', sans-serif" font-size="15" fill="#1c1c22">图</text>
<text x="172.1" y="377.4" font-family="'Liberation Sans', 'Noto Sans CJK SC', sans-serif" font-size="15" fill="#1c1c22">三</text>
<text x="508.9" y="379.4" font-family="'Liberation Sans', 'Noto Sans CJK SC', sans-serif" font-size="15" fill="#1c1c22">图</text>
<text x="525.8" y="379.4" font-family="'Liberation Sans', 'Noto Sans CJK SC', sans-serif" font-size="15" fill="#1c1c22">四</text>
<text x="155.2" y="558.3" font-family="'Liberation Sans', 'Noto Sans CJK SC', sans-serif" font-size="15" fill="#1c1c22">图</text>
<text x="172.4" y="558.3" font-family="'Liberation Sans', 'Noto Sans CJK SC', sans-serif" font-size="15" fill="#1c1c22">五</text>
<text x="508.7" y="560.3" font-family="'Liberation Sans', 'Noto Sans CJK SC', sans-serif" font-size="15" fill="#1c1c22">图</text>
<text x="525.4" y="560.3" font-family="'Liberation Sans', 'Noto Sans CJK SC', sans-serif" font-size="15" fill="#1c1c22">六</text>
</svg>
</body></html>
